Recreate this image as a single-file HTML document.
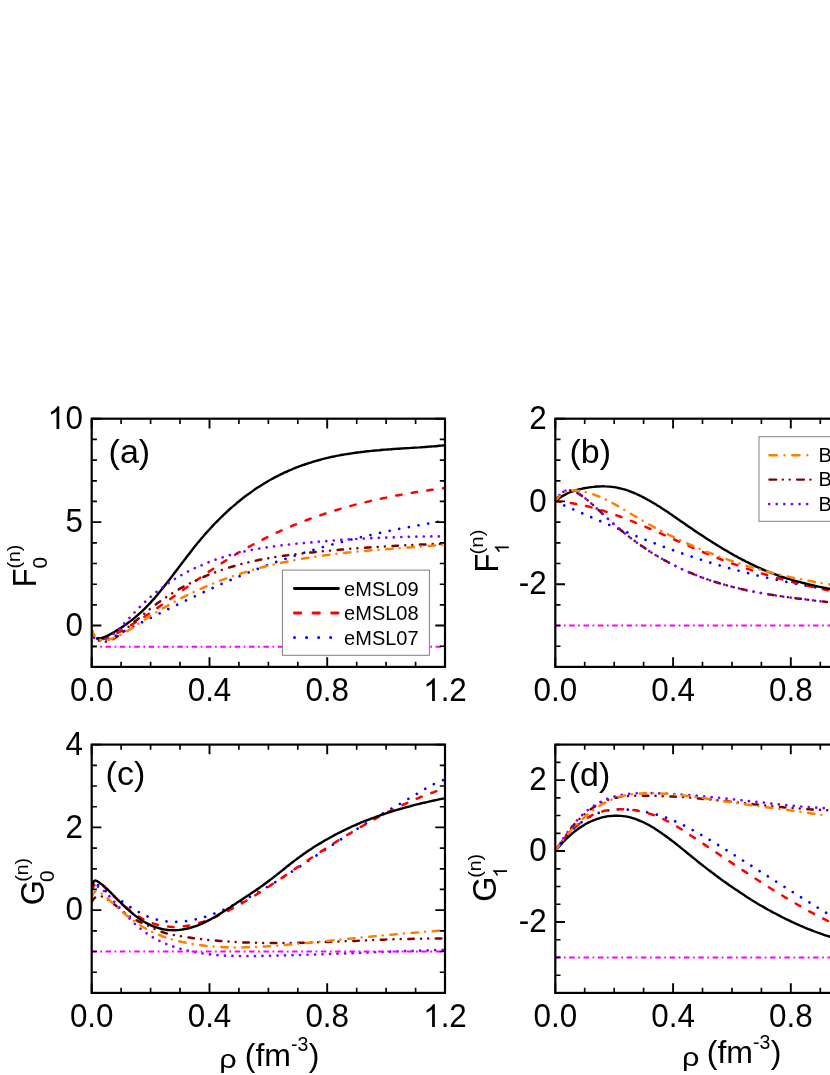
<!DOCTYPE html>
<html><head><meta charset="utf-8"><title>Landau parameters</title>
<style>html,body{margin:0;padding:0;background:#fff}svg{display:block;will-change:transform}text{font-family:"Liberation Sans", sans-serif;fill:#000}</style></head>
<body><svg width="830" height="1075" viewBox="0 0 830 1075">
<rect width="830" height="1075" fill="#fff"/>
<g id="panel-a">
<clipPath id="clip-a"><rect x="91.7" y="418.7" width="353.3" height="248.2"/></clipPath>
<g clip-path="url(#clip-a)" fill="none" stroke-linecap="round" stroke-linejoin="round">
<path d="M91.7 630.7C92.0 631.2 92.7 632.9 93.2 633.8C93.7 634.7 94.2 635.5 94.7 636.2C95.2 636.8 95.7 637.4 96.2 637.8C96.7 638.3 97.2 638.6 97.7 638.9C98.2 639.2 98.7 639.4 99.2 639.6C99.7 639.7 100.2 639.9 100.7 639.9C101.2 640.0 101.7 640.0 102.2 640.0C102.7 640.0 103.2 640.0 103.7 639.9C104.2 639.9 104.7 639.8 105.2 639.7C105.7 639.6 106.2 639.4 106.7 639.3C107.2 639.2 107.7 639.0 108.2 638.9C108.7 638.7 109.2 638.5 109.7 638.3C110.2 638.1 110.7 637.9 111.2 637.7C111.7 637.5 112.2 637.3 112.7 637.1C113.2 636.9 113.7 636.6 114.2 636.4C114.7 636.2 115.2 635.9 115.7 635.7C116.2 635.4 116.7 635.2 117.2 634.9C117.7 634.7 118.2 634.4 118.7 634.1C119.2 633.9 119.7 633.6 120.2 633.4C120.7 633.1 120.8 633.1 121.7 632.6C122.6 632.1 124.4 631.2 125.7 630.5C127.0 629.8 128.4 629.2 129.7 628.5C131.0 627.8 132.4 627.1 133.7 626.4C135.0 625.8 136.4 625.1 137.7 624.4C139.0 623.7 140.4 623.0 141.7 622.4C143.0 621.7 144.4 621.0 145.7 620.4C147.0 619.7 148.4 619.0 149.7 618.4C151.0 617.7 152.4 617.0 153.7 616.4C155.0 615.7 156.4 615.0 157.7 614.4C159.0 613.7 160.4 613.0 161.7 612.4C163.0 611.7 164.4 611.1 165.7 610.4C167.0 609.7 168.4 609.1 169.7 608.4C171.0 607.8 172.4 607.1 173.7 606.5C175.0 605.8 176.4 605.2 177.7 604.5C179.0 603.9 180.4 603.2 181.7 602.6C183.0 601.9 184.4 601.3 185.7 600.6C187.0 600.0 188.4 599.4 189.7 598.7C191.0 598.1 192.4 597.5 193.7 596.8C195.0 596.2 196.4 595.6 197.7 594.9C199.0 594.3 200.4 593.7 201.7 593.1C203.0 592.4 204.4 591.8 205.7 591.2C207.0 590.6 208.4 590.0 209.7 589.3C211.0 588.7 212.4 588.1 213.7 587.5C215.0 586.9 216.4 586.3 217.7 585.7C219.0 585.1 220.4 584.5 221.7 583.9C223.0 583.3 224.4 582.7 225.7 582.2C227.0 581.6 228.4 581.0 229.7 580.4C231.0 579.8 232.4 579.3 233.7 578.7C235.0 578.1 236.4 577.6 237.7 577.0C239.0 576.4 240.4 575.9 241.7 575.3C243.0 574.8 244.4 574.2 245.7 573.7C247.0 573.1 248.4 572.6 249.7 572.0C251.0 571.5 252.4 571.0 253.7 570.4C255.0 569.9 256.4 569.4 257.7 568.9C259.0 568.4 260.4 567.8 261.7 567.3C263.0 566.8 264.4 566.3 265.7 565.8C267.0 565.3 268.4 564.8 269.7 564.3C271.0 563.9 272.4 563.4 273.7 562.9C275.0 562.4 276.4 561.9 277.7 561.5C279.0 561.0 280.4 560.5 281.7 560.1C283.0 559.6 284.4 559.1 285.7 558.7C287.0 558.2 288.4 557.8 289.7 557.3C291.0 556.9 292.4 556.4 293.7 556.0C295.0 555.6 296.4 555.1 297.7 554.7C299.0 554.3 300.4 553.9 301.7 553.4C303.0 553.0 304.4 552.6 305.7 552.2C307.0 551.8 308.4 551.4 309.7 551.0C311.0 550.6 312.4 550.2 313.7 549.8C315.0 549.4 316.4 549.0 317.7 548.6C319.0 548.2 320.4 547.8 321.7 547.4C323.0 547.0 324.4 546.7 325.7 546.3C327.0 545.9 328.4 545.5 329.7 545.2C331.0 544.8 332.4 544.4 333.7 544.1C335.0 543.7 336.4 543.4 337.7 543.0C339.0 542.7 340.4 542.3 341.7 542.0C343.0 541.6 344.4 541.3 345.7 540.9C347.0 540.6 348.4 540.3 349.7 539.9C351.0 539.6 352.4 539.3 353.7 538.9C355.0 538.6 356.4 538.3 357.7 538.0C359.0 537.7 360.4 537.3 361.7 537.0C363.0 536.7 364.4 536.4 365.7 536.1C367.0 535.8 368.4 535.5 369.7 535.2C371.0 534.9 372.4 534.6 373.7 534.3C375.0 534.0 376.4 533.7 377.7 533.4C379.0 533.1 380.4 532.8 381.7 532.5C383.0 532.2 384.4 532.0 385.7 531.7C387.0 531.4 388.4 531.1 389.7 530.9C391.0 530.6 392.4 530.3 393.7 530.0C395.0 529.8 396.4 529.5 397.7 529.2C399.0 529.0 400.4 528.7 401.7 528.4C403.0 528.2 404.4 527.9 405.7 527.7C407.0 527.4 408.4 527.2 409.7 526.9C411.0 526.7 412.4 526.4 413.7 526.2C415.0 525.9 416.4 525.7 417.7 525.4C419.0 525.2 420.4 524.9 421.7 524.7C423.0 524.5 424.4 524.2 425.7 524.0C427.0 523.8 428.4 523.5 429.7 523.3C431.0 523.1 432.4 522.8 433.7 522.6C435.0 522.4 436.4 522.2 437.7 521.9C439.0 521.7 440.5 521.5 441.7 521.3C442.9 521.1 444.4 520.8 445.0 520.7" stroke="#0000ff" stroke-width="2.7" stroke-dasharray="0.01 9.8"/>
<path d="M91.7 630.6C92.0 631.2 92.7 633.0 93.2 634.0C93.7 634.9 94.2 635.7 94.7 636.3C95.2 636.9 95.7 637.4 96.2 637.8C96.7 638.2 97.2 638.4 97.7 638.6C98.2 638.8 98.7 638.9 99.2 639.0C99.7 639.1 100.2 639.2 100.7 639.2C101.2 639.2 101.7 639.2 102.2 639.2C102.7 639.1 103.2 639.1 103.7 639.0C104.2 638.9 104.7 638.7 105.2 638.6C105.7 638.4 106.2 638.3 106.7 638.1C107.2 637.9 107.7 637.7 108.2 637.5C108.7 637.3 109.2 637.1 109.7 636.8C110.2 636.6 110.7 636.4 111.2 636.1C111.7 635.9 112.2 635.6 112.7 635.4C113.2 635.1 113.7 634.8 114.2 634.6C114.7 634.3 115.2 634.1 115.7 633.8C116.2 633.5 116.7 633.3 117.2 633.0C117.7 632.7 118.2 632.5 118.7 632.2C119.2 631.9 119.7 631.7 120.2 631.4C120.7 631.1 120.8 631.1 121.7 630.5C122.6 630.0 124.4 629.0 125.7 628.3C127.0 627.5 128.4 626.7 129.7 625.9C131.0 625.1 132.4 624.3 133.7 623.5C135.0 622.7 136.4 621.8 137.7 621.0C139.0 620.2 140.4 619.3 141.7 618.4C143.0 617.6 144.4 616.7 145.7 615.8C147.0 615.0 148.4 614.1 149.7 613.2C151.0 612.3 152.4 611.4 153.7 610.5C155.0 609.6 156.4 608.7 157.7 607.7C159.0 606.8 160.4 605.9 161.7 605.0C163.0 604.0 164.4 603.1 165.7 602.2C167.0 601.2 168.4 600.3 169.7 599.4C171.0 598.4 172.4 597.5 173.7 596.5C175.0 595.6 176.4 594.6 177.7 593.7C179.0 592.7 180.4 591.8 181.7 590.8C183.0 589.9 184.4 588.9 185.7 588.0C187.0 587.0 188.4 586.1 189.7 585.1C191.0 584.2 192.4 583.2 193.7 582.3C195.0 581.3 196.4 580.4 197.7 579.5C199.0 578.5 200.4 577.6 201.7 576.7C203.0 575.7 204.4 574.8 205.7 573.9C207.0 573.0 208.4 572.0 209.7 571.1C211.0 570.2 212.4 569.3 213.7 568.4C215.0 567.5 216.4 566.6 217.7 565.8C219.0 564.9 220.4 564.0 221.7 563.1C223.0 562.3 224.4 561.4 225.7 560.6C227.0 559.7 228.4 558.9 229.7 558.1C231.0 557.2 232.4 556.4 233.7 555.6C235.0 554.8 236.4 554.0 237.7 553.2C239.0 552.4 240.4 551.6 241.7 550.9C243.0 550.1 244.4 549.3 245.7 548.6C247.0 547.8 248.4 547.1 249.7 546.4C251.0 545.6 252.4 544.9 253.7 544.2C255.0 543.5 256.4 542.8 257.7 542.1C259.0 541.4 260.4 540.7 261.7 540.0C263.0 539.3 264.4 538.6 265.7 538.0C267.0 537.3 268.4 536.7 269.7 536.0C271.0 535.4 272.4 534.7 273.7 534.1C275.0 533.5 276.4 532.8 277.7 532.2C279.0 531.6 280.4 531.0 281.7 530.4C283.0 529.8 284.4 529.2 285.7 528.6C287.0 528.1 288.4 527.5 289.7 526.9C291.0 526.4 292.4 525.8 293.7 525.2C295.0 524.7 296.4 524.2 297.7 523.6C299.0 523.1 300.4 522.6 301.7 522.0C303.0 521.5 304.4 521.0 305.7 520.5C307.0 520.0 308.4 519.5 309.7 519.0C311.0 518.5 312.4 518.0 313.7 517.5C315.0 517.1 316.4 516.6 317.7 516.1C319.0 515.7 320.4 515.2 321.7 514.8C323.0 514.3 324.4 513.9 325.7 513.4C327.0 513.0 328.4 512.6 329.7 512.1C331.0 511.7 332.4 511.3 333.7 510.9C335.0 510.5 336.4 510.1 337.7 509.7C339.0 509.3 340.4 508.9 341.7 508.5C343.0 508.1 344.4 507.7 345.7 507.3C347.0 506.9 348.4 506.6 349.7 506.2C351.0 505.9 352.4 505.5 353.7 505.1C355.0 504.8 356.4 504.4 357.7 504.1C359.0 503.8 360.4 503.4 361.7 503.1C363.0 502.8 364.4 502.4 365.7 502.1C367.0 501.8 368.4 501.5 369.7 501.2C371.0 500.8 372.4 500.5 373.7 500.2C375.0 499.9 376.4 499.6 377.7 499.3C379.0 499.1 380.4 498.8 381.7 498.5C383.0 498.2 384.4 497.9 385.7 497.7C387.0 497.4 388.4 497.1 389.7 496.9C391.0 496.6 392.4 496.3 393.7 496.1C395.0 495.8 396.4 495.6 397.7 495.3C399.0 495.1 400.4 494.8 401.7 494.6C403.0 494.3 404.4 494.1 405.7 493.9C407.0 493.7 408.4 493.4 409.7 493.2C411.0 493.0 412.4 492.8 413.7 492.5C415.0 492.3 416.4 492.1 417.7 491.9C419.0 491.7 420.4 491.5 421.7 491.3C423.0 491.1 424.4 490.9 425.7 490.7C427.0 490.5 428.4 490.3 429.7 490.1C431.0 489.9 432.4 489.7 433.7 489.5C435.0 489.3 436.4 489.2 437.7 489.0C439.0 488.8 440.5 488.6 441.7 488.5C442.9 488.3 444.4 488.1 445.0 488.0" stroke="#ff0000" stroke-width="2.5" stroke-dasharray="5.4 10.3"/>
<path d="M97.4 638.2C97.7 638.2 98.4 638.4 98.9 638.4C99.4 638.4 99.9 638.4 100.4 638.3C100.9 638.3 101.4 638.1 101.9 638.0C102.4 637.8 102.9 637.6 103.4 637.5C103.9 637.3 104.4 637.1 104.9 636.8C105.4 636.6 105.9 636.4 106.4 636.2C106.9 636.0 107.4 635.7 107.9 635.5C108.4 635.2 108.9 635.0 109.4 634.7C109.9 634.5 110.4 634.2 110.9 633.9C111.4 633.7 111.9 633.4 112.4 633.1C112.9 632.8 113.4 632.5 113.9 632.2C114.4 631.9 114.9 631.6 115.4 631.3C115.9 631.0 116.4 630.7 116.9 630.4C117.4 630.1 117.9 629.8 118.4 629.5C118.9 629.2 119.4 628.9 119.9 628.5C120.4 628.2 120.9 627.9 121.4 627.6C121.9 627.2 122.4 626.9 122.9 626.6C123.4 626.2 123.9 625.9 124.4 625.5C124.9 625.2 125.4 624.8 125.9 624.5C126.4 624.1 126.5 624.1 127.4 623.4C128.3 622.7 130.1 621.4 131.4 620.4C132.7 619.4 134.1 618.3 135.4 617.2C136.7 616.0 138.1 614.9 139.4 613.7C140.7 612.5 142.1 611.2 143.4 610.0C144.7 608.7 146.1 607.3 147.4 605.9C148.7 604.5 150.1 603.1 151.4 601.6C152.7 600.1 154.1 598.6 155.4 597.1C156.7 595.5 158.1 593.9 159.4 592.3C160.7 590.7 162.1 589.0 163.4 587.4C164.7 585.7 166.1 584.0 167.4 582.3C168.7 580.6 170.1 578.8 171.4 577.1C172.7 575.3 174.1 573.6 175.4 571.8C176.7 570.1 178.1 568.3 179.4 566.6C180.7 564.8 182.1 563.0 183.4 561.3C184.7 559.5 186.1 557.8 187.4 556.0C188.7 554.3 190.1 552.6 191.4 550.9C192.7 549.2 194.1 547.5 195.4 545.8C196.7 544.2 198.1 542.5 199.4 540.9C200.7 539.3 202.1 537.7 203.4 536.2C204.7 534.6 206.1 533.1 207.4 531.6C208.7 530.2 210.1 528.7 211.4 527.3C212.7 525.8 214.1 524.4 215.4 523.0C216.7 521.6 218.1 520.3 219.4 519.0C220.7 517.6 222.1 516.3 223.4 515.1C224.7 513.8 226.1 512.5 227.4 511.3C228.7 510.1 230.1 508.9 231.4 507.7C232.7 506.5 234.1 505.4 235.4 504.3C236.7 503.1 238.1 502.0 239.4 501.0C240.7 499.9 242.1 498.8 243.4 497.8C244.7 496.8 246.1 495.7 247.4 494.8C248.7 493.8 250.1 492.8 251.4 491.9C252.7 490.9 254.1 490.0 255.4 489.1C256.7 488.2 258.1 487.3 259.4 486.5C260.7 485.6 262.1 484.8 263.4 483.9C264.7 483.1 266.1 482.3 267.4 481.6C268.7 480.8 270.1 480.0 271.4 479.3C272.7 478.5 274.1 477.8 275.4 477.1C276.7 476.4 278.1 475.7 279.4 475.1C280.7 474.4 282.1 473.8 283.4 473.1C284.7 472.5 286.1 471.9 287.4 471.3C288.7 470.7 290.1 470.1 291.4 469.6C292.7 469.0 294.1 468.5 295.4 467.9C296.7 467.4 298.1 466.9 299.4 466.4C300.7 465.9 302.1 465.4 303.4 464.9C304.7 464.5 306.1 464.0 307.4 463.6C308.7 463.1 310.1 462.7 311.4 462.3C312.7 461.9 314.1 461.5 315.4 461.1C316.7 460.7 318.1 460.3 319.4 460.0C320.7 459.6 322.1 459.2 323.4 458.9C324.7 458.6 326.1 458.2 327.4 457.9C328.7 457.6 330.1 457.3 331.4 457.0C332.7 456.7 334.1 456.4 335.4 456.2C336.7 455.9 338.1 455.6 339.4 455.4C340.7 455.1 342.1 454.9 343.4 454.7C344.7 454.4 346.1 454.2 347.4 454.0C348.7 453.8 350.1 453.6 351.4 453.4C352.7 453.2 354.1 453.0 355.4 452.8C356.7 452.6 358.1 452.4 359.4 452.3C360.7 452.1 362.1 451.9 363.4 451.8C364.7 451.6 366.1 451.5 367.4 451.3C368.7 451.2 370.1 451.0 371.4 450.9C372.7 450.8 374.1 450.6 375.4 450.5C376.7 450.4 378.1 450.3 379.4 450.2C380.7 450.0 382.1 449.9 383.4 449.8C384.7 449.7 386.1 449.6 387.4 449.5C388.7 449.4 390.1 449.3 391.4 449.2C392.7 449.1 394.1 449.0 395.4 448.9C396.7 448.8 398.1 448.8 399.4 448.7C400.7 448.6 402.1 448.5 403.4 448.4C404.7 448.3 406.1 448.2 407.4 448.1C408.7 448.1 410.1 448.0 411.4 447.9C412.7 447.8 414.1 447.7 415.4 447.6C416.7 447.5 418.1 447.4 419.4 447.4C420.7 447.3 422.1 447.2 423.4 447.1C424.7 447.0 426.1 446.9 427.4 446.8C428.7 446.7 430.1 446.6 431.4 446.5C432.7 446.4 434.1 446.3 435.4 446.2C436.7 446.1 438.1 445.9 439.4 445.8C440.7 445.7 442.5 445.5 443.4 445.4C444.3 445.4 444.7 445.3 445.0 445.3" stroke="#000" stroke-width="2.4"/>
<path d="M91.7 630.6C92.0 631.2 92.7 633.2 93.2 634.3C93.7 635.3 94.2 636.2 94.7 636.9C95.2 637.6 95.7 638.2 96.2 638.7C96.7 639.2 97.2 639.6 97.7 639.9C98.2 640.2 98.7 640.5 99.2 640.7C99.7 641.0 100.2 641.1 100.7 641.3C101.2 641.5 101.7 641.6 102.2 641.7C102.7 641.8 103.2 641.8 103.7 641.8C104.2 641.9 104.7 641.9 105.2 641.8C105.7 641.8 106.2 641.7 106.7 641.6C107.2 641.6 107.7 641.4 108.2 641.3C108.7 641.2 109.2 641.0 109.7 640.8C110.2 640.6 110.7 640.4 111.2 640.2C111.7 639.9 112.2 639.7 112.7 639.4C113.2 639.1 113.7 638.8 114.2 638.5C114.7 638.2 115.2 637.9 115.7 637.5C116.2 637.2 116.7 636.8 117.2 636.5C117.7 636.1 118.2 635.7 118.7 635.3C119.2 634.9 119.7 634.5 120.2 634.1C120.7 633.7 120.8 633.7 121.7 632.9C122.6 632.1 124.4 630.5 125.7 629.3C127.0 628.2 128.4 626.9 129.7 625.8C131.0 624.6 132.4 623.5 133.7 622.4C135.0 621.3 136.4 620.3 137.7 619.2C139.0 618.1 140.4 617.0 141.7 615.9C143.0 614.8 144.4 613.6 145.7 612.5C147.0 611.4 148.4 610.3 149.7 609.2C151.0 608.2 152.4 607.1 153.7 606.1C155.0 605.1 156.4 604.1 157.7 603.1C159.0 602.1 160.4 601.2 161.7 600.2C163.0 599.3 164.4 598.4 165.7 597.5C167.0 596.6 168.4 595.7 169.7 594.9C171.0 594.0 172.4 593.2 173.7 592.4C175.0 591.5 176.4 590.7 177.7 590.0C179.0 589.2 180.4 588.4 181.7 587.7C183.0 586.9 184.4 586.2 185.7 585.5C187.0 584.8 188.4 584.1 189.7 583.4C191.0 582.7 192.4 582.1 193.7 581.4C195.0 580.8 196.4 580.2 197.7 579.6C199.0 578.9 200.4 578.3 201.7 577.8C203.0 577.2 204.4 576.6 205.7 576.0C207.0 575.5 208.4 574.9 209.7 574.4C211.0 573.9 212.4 573.4 213.7 572.9C215.0 572.4 216.4 571.9 217.7 571.4C219.0 570.9 220.4 570.4 221.7 570.0C223.0 569.5 224.4 569.1 225.7 568.7C227.0 568.2 228.4 567.8 229.7 567.4C231.0 567.0 232.4 566.6 233.7 566.2C235.0 565.8 236.4 565.4 237.7 565.1C239.0 564.7 240.4 564.3 241.7 564.0C243.0 563.6 244.4 563.3 245.7 563.0C247.0 562.7 248.4 562.3 249.7 562.0C251.0 561.7 252.4 561.4 253.7 561.1C255.0 560.8 256.4 560.5 257.7 560.3C259.0 560.0 260.4 559.7 261.7 559.5C263.0 559.2 264.4 559.0 265.7 558.7C267.0 558.5 268.4 558.2 269.7 558.0C271.0 557.8 272.4 557.5 273.7 557.3C275.0 557.1 276.4 556.9 277.7 556.7C279.0 556.5 280.4 556.3 281.7 556.1C283.0 555.9 284.4 555.7 285.7 555.5C287.0 555.3 288.4 555.1 289.7 555.0C291.0 554.8 292.4 554.6 293.7 554.5C295.0 554.3 296.4 554.1 297.7 554.0C299.0 553.8 300.4 553.7 301.7 553.5C303.0 553.4 304.4 553.2 305.7 553.1C307.0 552.9 308.4 552.8 309.7 552.6C311.0 552.5 312.4 552.4 313.7 552.2C315.0 552.1 316.4 552.0 317.7 551.8C319.0 551.7 320.4 551.6 321.7 551.4C323.0 551.3 324.4 551.2 325.7 551.0C327.0 550.9 328.4 550.8 329.7 550.7C331.0 550.6 332.4 550.4 333.7 550.3C335.0 550.2 336.4 550.1 337.7 550.0C339.0 549.8 340.4 549.7 341.7 549.6C343.0 549.5 344.4 549.4 345.7 549.3C347.0 549.2 348.4 549.0 349.7 548.9C351.0 548.8 352.4 548.7 353.7 548.6C355.0 548.5 356.4 548.4 357.7 548.3C359.0 548.2 360.4 548.1 361.7 548.0C363.0 547.9 364.4 547.8 365.7 547.7C367.0 547.6 368.4 547.5 369.7 547.4C371.0 547.3 372.4 547.2 373.7 547.2C375.0 547.1 376.4 547.0 377.7 546.9C379.0 546.8 380.4 546.7 381.7 546.6C383.0 546.5 384.4 546.5 385.7 546.4C387.0 546.3 388.4 546.2 389.7 546.1C391.0 546.1 392.4 546.0 393.7 545.9C395.0 545.8 396.4 545.8 397.7 545.7C399.0 545.6 400.4 545.5 401.7 545.5C403.0 545.4 404.4 545.3 405.7 545.3C407.0 545.2 408.4 545.1 409.7 545.1C411.0 545.0 412.4 544.9 413.7 544.9C415.0 544.8 416.4 544.8 417.7 544.7C419.0 544.7 420.4 544.6 421.7 544.5C423.0 544.5 424.4 544.4 425.7 544.4C427.0 544.3 428.4 544.3 429.7 544.2C431.0 544.2 432.4 544.1 433.7 544.1C435.0 544.0 436.4 544.0 437.7 544.0C439.0 543.9 440.5 543.9 441.7 543.8C442.9 543.8 444.4 543.7 445.0 543.7" stroke="#800000" stroke-width="2.5" stroke-dasharray="5.5 7.2 0.01 7.15 0.01 7.65"/>
<path d="M91.7 630.6C92.0 631.5 92.7 634.4 93.2 635.8C93.7 637.1 94.2 638.1 94.7 638.8C95.2 639.6 95.7 640.0 96.2 640.3C96.7 640.6 97.2 640.7 97.7 640.7C98.2 640.8 98.7 640.6 99.2 640.5C99.7 640.5 100.2 640.3 100.7 640.2C101.2 640.1 101.7 640.0 102.2 639.9C102.7 639.8 103.2 639.7 103.7 639.5C104.2 639.4 104.7 639.2 105.2 639.0C105.7 638.9 106.2 638.7 106.7 638.4C107.2 638.2 107.7 637.9 108.2 637.7C108.7 637.4 109.2 637.1 109.7 636.7C110.2 636.4 110.7 636.1 111.2 635.7C111.7 635.3 112.2 634.9 112.7 634.5C113.2 634.1 113.7 633.7 114.2 633.3C114.7 632.8 115.2 632.4 115.7 631.9C116.2 631.5 116.7 631.0 117.2 630.5C117.7 630.1 118.2 629.6 118.7 629.1C119.2 628.6 119.7 628.1 120.2 627.6C120.7 627.1 120.8 627.0 121.7 626.1C122.6 625.1 124.4 623.3 125.7 621.9C127.0 620.5 128.4 619.0 129.7 617.6C131.0 616.2 132.4 614.7 133.7 613.3C135.0 611.9 136.4 610.5 137.7 609.1C139.0 607.7 140.4 606.4 141.7 605.1C143.0 603.7 144.4 602.5 145.7 601.2C147.0 600.0 148.4 598.8 149.7 597.6C151.0 596.4 152.4 595.3 153.7 594.2C155.0 593.1 156.4 592.0 157.7 591.0C159.0 589.9 160.4 588.9 161.7 587.9C163.0 586.9 164.4 585.9 165.7 585.0C167.0 584.1 168.4 583.1 169.7 582.3C171.0 581.4 172.4 580.5 173.7 579.7C175.0 578.8 176.4 578.0 177.7 577.2C179.0 576.4 180.4 575.7 181.7 574.9C183.0 574.2 184.4 573.4 185.7 572.7C187.0 572.0 188.4 571.3 189.7 570.7C191.0 570.0 192.4 569.3 193.7 568.7C195.0 568.0 196.4 567.4 197.7 566.8C199.0 566.2 200.4 565.6 201.7 565.1C203.0 564.5 204.4 563.9 205.7 563.4C207.0 562.8 208.4 562.3 209.7 561.8C211.0 561.3 212.4 560.8 213.7 560.3C215.0 559.8 216.4 559.4 217.7 558.9C219.0 558.5 220.4 558.0 221.7 557.6C223.0 557.2 224.4 556.8 225.7 556.4C227.0 556.0 228.4 555.6 229.7 555.2C231.0 554.8 232.4 554.4 233.7 554.1C235.0 553.7 236.4 553.4 237.7 553.1C239.0 552.7 240.4 552.4 241.7 552.1C243.0 551.8 244.4 551.5 245.7 551.2C247.0 550.9 248.4 550.6 249.7 550.4C251.0 550.1 252.4 549.8 253.7 549.6C255.0 549.3 256.4 549.1 257.7 548.9C259.0 548.6 260.4 548.4 261.7 548.2C263.0 547.9 264.4 547.7 265.7 547.5C267.0 547.3 268.4 547.1 269.7 546.9C271.0 546.7 272.4 546.6 273.7 546.4C275.0 546.2 276.4 546.0 277.7 545.8C279.0 545.7 280.4 545.5 281.7 545.3C283.0 545.2 284.4 545.0 285.7 544.9C287.0 544.7 288.4 544.6 289.7 544.4C291.0 544.3 292.4 544.1 293.7 544.0C295.0 543.9 296.4 543.7 297.7 543.6C299.0 543.5 300.4 543.3 301.7 543.2C303.0 543.1 304.4 543.0 305.7 542.8C307.0 542.7 308.4 542.6 309.7 542.5C311.0 542.3 312.4 542.2 313.7 542.1C315.0 542.0 316.4 541.9 317.7 541.8C319.0 541.6 320.4 541.5 321.7 541.4C323.0 541.3 324.4 541.2 325.7 541.1C327.0 541.0 328.4 540.9 329.7 540.8C331.0 540.7 332.4 540.6 333.7 540.5C335.0 540.4 336.4 540.3 337.7 540.2C339.0 540.1 340.4 540.0 341.7 539.9C343.0 539.8 344.4 539.7 345.7 539.6C347.0 539.6 348.4 539.5 349.7 539.4C351.0 539.3 352.4 539.2 353.7 539.1C355.0 539.1 356.4 539.0 357.7 538.9C359.0 538.8 360.4 538.8 361.7 538.7C363.0 538.6 364.4 538.5 365.7 538.5C367.0 538.4 368.4 538.3 369.7 538.3C371.0 538.2 372.4 538.1 373.7 538.1C375.0 538.0 376.4 538.0 377.7 537.9C379.0 537.8 380.4 537.8 381.7 537.7C383.0 537.7 384.4 537.6 385.7 537.6C387.0 537.5 388.4 537.5 389.7 537.4C391.0 537.4 392.4 537.3 393.7 537.3C395.0 537.2 396.4 537.2 397.7 537.1C399.0 537.1 400.4 537.1 401.7 537.0C403.0 537.0 404.4 536.9 405.7 536.9C407.0 536.9 408.4 536.8 409.7 536.8C411.0 536.8 412.4 536.7 413.7 536.7C415.0 536.7 416.4 536.7 417.7 536.6C419.0 536.6 420.4 536.6 421.7 536.6C423.0 536.5 424.4 536.5 425.7 536.5C427.0 536.5 428.4 536.5 429.7 536.4C431.0 536.4 432.4 536.4 433.7 536.4C435.0 536.4 436.4 536.4 437.7 536.4C439.0 536.3 440.5 536.3 441.7 536.3C442.9 536.3 444.4 536.3 445.0 536.3" stroke="#8000ff" stroke-width="2.7" stroke-dasharray="0.01 7.5"/>
<path d="M91.7 629.9C92.0 630.5 92.7 632.1 93.2 633.1C93.7 634.1 94.2 635.2 94.7 635.9C95.2 636.6 95.7 637.0 96.2 637.5C96.7 637.9 97.2 638.2 97.7 638.5C98.2 638.8 98.7 639.1 99.2 639.3C99.7 639.5 100.2 639.7 100.7 639.8C101.2 639.9 101.7 640.0 102.2 640.1C102.7 640.2 103.2 640.2 103.7 640.2C104.2 640.2 104.7 640.2 105.2 640.2C105.7 640.1 106.2 640.1 106.7 640.0C107.2 639.9 107.7 639.8 108.2 639.7C108.7 639.6 109.2 639.5 109.7 639.3C110.2 639.2 110.7 639.0 111.2 638.9C111.7 638.7 112.2 638.5 112.7 638.4C113.2 638.2 113.7 638.0 114.2 637.8C114.7 637.6 115.2 637.4 115.7 637.2C116.2 637.0 116.7 636.8 117.2 636.5C117.7 636.3 118.2 636.1 118.7 635.8C119.2 635.6 119.7 635.3 120.2 635.1C120.7 634.8 120.8 634.8 121.7 634.3C122.6 633.8 124.4 632.8 125.7 632.0C127.0 631.2 128.4 630.4 129.7 629.6C131.0 628.7 132.4 627.8 133.7 627.0C135.0 626.1 136.4 625.2 137.7 624.3C139.0 623.4 140.4 622.5 141.7 621.6C143.0 620.7 144.4 619.8 145.7 619.0C147.0 618.1 148.4 617.2 149.7 616.4C151.0 615.5 152.4 614.7 153.7 613.9C155.0 613.0 156.4 612.2 157.7 611.4C159.0 610.6 160.4 609.8 161.7 609.0C163.0 608.2 164.4 607.5 165.7 606.7C167.0 605.9 168.4 605.2 169.7 604.4C171.0 603.7 172.4 602.9 173.7 602.2C175.0 601.5 176.4 600.8 177.7 600.1C179.0 599.3 180.4 598.7 181.7 598.0C183.0 597.3 184.4 596.6 185.7 595.9C187.0 595.3 188.4 594.6 189.7 593.9C191.0 593.3 192.4 592.7 193.7 592.0C195.0 591.4 196.4 590.8 197.7 590.2C199.0 589.6 200.4 588.9 201.7 588.4C203.0 587.8 204.4 587.2 205.7 586.6C207.0 586.0 208.4 585.5 209.7 584.9C211.0 584.3 212.4 583.8 213.7 583.3C215.0 582.7 216.4 582.2 217.7 581.7C219.0 581.1 220.4 580.6 221.7 580.1C223.0 579.6 224.4 579.1 225.7 578.6C227.0 578.2 228.4 577.7 229.7 577.2C231.0 576.7 232.4 576.3 233.7 575.8C235.0 575.4 236.4 574.9 237.7 574.5C239.0 574.1 240.4 573.6 241.7 573.2C243.0 572.8 244.4 572.4 245.7 572.0C247.0 571.6 248.4 571.2 249.7 570.8C251.0 570.4 252.4 570.0 253.7 569.6C255.0 569.2 256.4 568.9 257.7 568.5C259.0 568.2 260.4 567.8 261.7 567.4C263.0 567.1 264.4 566.8 265.7 566.4C267.0 566.1 268.4 565.8 269.7 565.4C271.0 565.1 272.4 564.8 273.7 564.5C275.0 564.2 276.4 563.9 277.7 563.6C279.0 563.3 280.4 563.0 281.7 562.7C283.0 562.4 284.4 562.2 285.7 561.9C287.0 561.6 288.4 561.3 289.7 561.1C291.0 560.8 292.4 560.6 293.7 560.3C295.0 560.1 296.4 559.8 297.7 559.6C299.0 559.3 300.4 559.1 301.7 558.9C303.0 558.6 304.4 558.4 305.7 558.2C307.0 558.0 308.4 557.8 309.7 557.5C311.0 557.3 312.4 557.1 313.7 556.9C315.0 556.7 316.4 556.5 317.7 556.3C319.0 556.1 320.4 555.9 321.7 555.8C323.0 555.6 324.4 555.4 325.7 555.2C327.0 555.0 328.4 554.9 329.7 554.7C331.0 554.5 332.4 554.4 333.7 554.2C335.0 554.0 336.4 553.9 337.7 553.7C339.0 553.6 340.4 553.4 341.7 553.3C343.0 553.1 344.4 553.0 345.7 552.8C347.0 552.7 348.4 552.5 349.7 552.4C351.0 552.3 352.4 552.1 353.7 552.0C355.0 551.9 356.4 551.7 357.7 551.6C359.0 551.5 360.4 551.4 361.7 551.2C363.0 551.1 364.4 551.0 365.7 550.9C367.0 550.7 368.4 550.6 369.7 550.5C371.0 550.4 372.4 550.3 373.7 550.2C375.0 550.1 376.4 550.0 377.7 549.8C379.0 549.7 380.4 549.6 381.7 549.5C383.0 549.4 384.4 549.3 385.7 549.2C387.0 549.1 388.4 549.0 389.7 548.9C391.0 548.8 392.4 548.7 393.7 548.6C395.0 548.5 396.4 548.4 397.7 548.3C399.0 548.2 400.4 548.1 401.7 548.0C403.0 547.9 404.4 547.8 405.7 547.7C407.0 547.6 408.4 547.5 409.7 547.4C411.0 547.3 412.4 547.2 413.7 547.1C415.0 547.0 416.4 546.9 417.7 546.8C419.0 546.7 420.4 546.6 421.7 546.5C423.0 546.4 424.4 546.3 425.7 546.2C427.0 546.1 428.4 546.0 429.7 545.9C431.0 545.8 432.4 545.7 433.7 545.6C435.0 545.5 436.4 545.4 437.7 545.3C439.0 545.2 440.5 545.1 441.7 545.0C442.9 544.9 444.4 544.7 445.0 544.7" stroke="#ff8000" stroke-width="2.5" stroke-dasharray="6.55 7.0 0.01 7.65"/>
</g>
<path d="M91.7 646.7 H445.0" stroke="#ff00ff" stroke-width="2.0" stroke-dasharray="5.5 3.55 1.75 3.55" stroke-dashoffset="0.5" fill="none"/>
<rect x="282.4" y="570.1" width="147.0" height="85.2" fill="#fff" stroke="#808080" stroke-width="1"/>
<path d="M294.4 588.5 H338.4" stroke="#000" stroke-width="2.9" stroke-linecap="round"/>
<text x="344.1" y="595.5" font-size="20">eMSL09</text>
<path d="M294.4 613.0 H338.4" stroke="#ff0000" stroke-width="2.9" stroke-linecap="round" stroke-dasharray="6.4 12.2"/>
<text x="344.1" y="620.0" font-size="20">eMSL08</text>
<path d="M294.5 637.6 H338.4" stroke="#0000ff" stroke-width="3" stroke-linecap="round" stroke-dasharray="0.01 12.05"/>
<text x="344.1" y="644.6" font-size="20">eMSL07</text>
<rect x="91.7" y="418.7" width="353.3" height="248.2" fill="none" stroke="#000" stroke-width="2.2"/>
<path d="M91.7 666.9v-9.7M91.7 418.7v9.7M209.5 666.9v-9.7M209.5 418.7v9.7M327.2 666.9v-9.7M327.2 418.7v9.7M445.0 666.9v-9.7M445.0 418.7v9.7M91.7 625.5h9.7M445.0 625.5h-9.7M91.7 522.1h9.7M445.0 522.1h-9.7M91.7 418.7h9.7M445.0 418.7h-9.7" stroke="#000" stroke-width="1.9" fill="none"/>
<path d="M121.1 666.9v-5.2M121.1 418.7v5.2M150.6 666.9v-5.2M150.6 418.7v5.2M180.0 666.9v-5.2M180.0 418.7v5.2M238.9 666.9v-5.2M238.9 418.7v5.2M268.4 666.9v-5.2M268.4 418.7v5.2M297.8 666.9v-5.2M297.8 418.7v5.2M356.7 666.9v-5.2M356.7 418.7v5.2M386.1 666.9v-5.2M386.1 418.7v5.2M415.6 666.9v-5.2M415.6 418.7v5.2M91.7 666.9h5.2M445.0 666.9h-5.2M91.7 646.2h5.2M445.0 646.2h-5.2M91.7 604.9h5.2M445.0 604.9h-5.2M91.7 584.2h5.2M445.0 584.2h-5.2M91.7 563.5h5.2M445.0 563.5h-5.2M91.7 542.8h5.2M445.0 542.8h-5.2M91.7 501.4h5.2M445.0 501.4h-5.2M91.7 480.8h5.2M445.0 480.8h-5.2M91.7 460.1h5.2M445.0 460.1h-5.2M91.7 439.4h5.2M445.0 439.4h-5.2" stroke="#000" stroke-width="1.65" fill="none"/>
<text transform="translate(91.7 700.9) scale(1 1.040)" font-size="31.4" text-anchor="middle">0.0</text>
<text transform="translate(209.5 700.9) scale(1 1.040)" font-size="31.4" text-anchor="middle">0.4</text>
<text transform="translate(327.2 700.9) scale(1 1.040)" font-size="31.4" text-anchor="middle">0.8</text>
<path transform="translate(423.17 700.9) scale(0.01533 -0.01533)" d="M763 0H583V1147Q518 1085 412.5 1023T223 930V1104Q374 1175 487 1276T647 1472H763Z"/>
<text transform="translate(466.8 700.9) scale(1 1.040)" font-size="31.4" text-anchor="end">.2</text>
<text transform="translate(83.0 635.7) scale(1 1.040)" font-size="31.4" text-anchor="end">0</text>
<text transform="translate(83.0 532.3) scale(1 1.040)" font-size="31.4" text-anchor="end">5</text>
<path transform="translate(47.57 428.9) scale(0.01533 -0.01533)" d="M763 0H583V1147Q518 1085 412.5 1023T223 930V1104Q374 1175 487 1276T647 1472H763Z"/>
<text transform="translate(83.0 428.9) scale(1 1.040)" font-size="31.4" text-anchor="end">0</text>
</g>
<g id="panel-b">
<clipPath id="clip-b"><rect x="555.3" y="418.7" width="353.3" height="248.2"/></clipPath>
<g clip-path="url(#clip-b)" fill="none" stroke-linecap="round" stroke-linejoin="round">
<path d="M555.3 501.4C555.5 501.5 556.3 501.8 556.8 502.0C557.3 502.3 557.8 502.5 558.3 502.7C558.8 502.9 559.3 503.2 559.8 503.4C560.3 503.6 560.8 503.8 561.3 504.0C561.8 504.3 562.3 504.5 562.8 504.7C563.3 504.9 563.8 505.2 564.3 505.4C564.8 505.6 565.3 505.8 565.8 506.0C566.3 506.3 566.8 506.5 567.3 506.7C567.8 506.9 568.3 507.1 568.8 507.4C569.3 507.6 569.8 507.8 570.3 508.0C570.8 508.3 571.3 508.5 571.8 508.7C572.3 508.9 572.8 509.1 573.3 509.4C573.8 509.6 574.3 509.8 574.8 510.0C575.3 510.2 575.8 510.5 576.3 510.7C576.8 510.9 577.3 511.1 577.8 511.3C578.3 511.6 578.8 511.8 579.3 512.0C579.8 512.2 580.3 512.4 580.8 512.7C581.3 512.9 581.8 513.1 582.3 513.3C582.8 513.5 583.3 513.7 583.8 514.0C584.3 514.2 584.4 514.2 585.3 514.6C586.2 515.0 588.0 515.8 589.3 516.4C590.6 516.9 592.0 517.5 593.3 518.1C594.6 518.7 596.0 519.3 597.3 519.8C598.6 520.4 600.0 521.0 601.3 521.5C602.6 522.1 604.0 522.7 605.3 523.3C606.6 523.8 608.0 524.4 609.3 525.0C610.6 525.5 612.0 526.1 613.3 526.6C614.6 527.2 616.0 527.8 617.3 528.3C618.6 528.9 620.0 529.4 621.3 530.0C622.6 530.5 624.0 531.1 625.3 531.6C626.6 532.2 628.0 532.7 629.3 533.3C630.6 533.8 632.0 534.4 633.3 534.9C634.6 535.5 636.0 536.0 637.3 536.5C638.6 537.1 640.0 537.6 641.3 538.1C642.6 538.6 644.0 539.2 645.3 539.7C646.6 540.2 648.0 540.7 649.3 541.3C650.6 541.8 652.0 542.3 653.3 542.8C654.6 543.3 656.0 543.8 657.3 544.3C658.6 544.8 660.0 545.3 661.3 545.8C662.6 546.3 664.0 546.8 665.3 547.3C666.6 547.8 668.0 548.3 669.3 548.8C670.6 549.3 672.0 549.8 673.3 550.3C674.6 550.7 676.0 551.2 677.3 551.7C678.6 552.2 680.0 552.6 681.3 553.1C682.6 553.6 684.0 554.0 685.3 554.5C686.6 554.9 688.0 555.4 689.3 555.8C690.6 556.3 692.0 556.7 693.3 557.2C694.6 557.6 696.0 558.1 697.3 558.5C698.6 558.9 700.0 559.4 701.3 559.8C702.6 560.2 704.0 560.6 705.3 561.0C706.6 561.5 708.0 561.9 709.3 562.3C710.6 562.7 712.0 563.1 713.3 563.5C714.6 563.9 716.0 564.3 717.3 564.7C718.6 565.1 720.0 565.5 721.3 565.9C722.6 566.3 724.0 566.7 725.3 567.0C726.6 567.4 728.0 567.8 729.3 568.2C730.6 568.5 732.0 568.9 733.3 569.3C734.6 569.6 736.0 570.0 737.3 570.4C738.6 570.7 740.0 571.1 741.3 571.4C742.6 571.8 744.0 572.1 745.3 572.5C746.6 572.8 748.0 573.1 749.3 573.5C750.6 573.8 752.0 574.1 753.3 574.5C754.6 574.8 756.0 575.1 757.3 575.5C758.6 575.8 760.0 576.1 761.3 576.4C762.6 576.7 764.0 577.0 765.3 577.3C766.6 577.6 768.0 578.0 769.3 578.3C770.6 578.6 772.0 578.9 773.3 579.1C774.6 579.4 776.0 579.7 777.3 580.0C778.6 580.3 780.0 580.6 781.3 580.9C782.6 581.2 784.0 581.4 785.3 581.7C786.6 582.0 788.0 582.3 789.3 582.5C790.6 582.8 792.0 583.1 793.3 583.3C794.6 583.6 796.0 583.8 797.3 584.1C798.6 584.3 800.0 584.6 801.3 584.8C802.6 585.1 804.0 585.3 805.3 585.6C806.6 585.8 808.0 586.1 809.3 586.3C810.6 586.5 812.0 586.8 813.3 587.0C814.6 587.2 816.0 587.4 817.3 587.7C818.6 587.9 820.0 588.1 821.3 588.3C822.6 588.5 824.0 588.8 825.3 589.0C826.6 589.2 828.0 589.4 829.3 589.6C830.6 589.8 832.0 590.0 833.3 590.2C834.6 590.4 836.0 590.6 837.3 590.8C838.6 591.0 840.0 591.2 841.3 591.4C842.6 591.5 844.4 591.8 845.0 591.9" stroke="#0000ff" stroke-width="2.7" stroke-dasharray="0.01 9.8"/>
<path d="M555.3 501.3C555.5 501.3 556.3 501.4 556.8 501.4C557.3 501.5 557.8 501.5 558.3 501.5C558.8 501.6 559.3 501.6 559.8 501.7C560.3 501.7 560.8 501.8 561.3 501.8C561.8 501.8 562.3 501.9 562.8 502.0C563.3 502.0 563.8 502.1 564.3 502.1C564.8 502.2 565.3 502.2 565.8 502.3C566.3 502.4 566.8 502.4 567.3 502.5C567.8 502.6 568.3 502.6 568.8 502.7C569.3 502.8 569.8 502.9 570.3 502.9C570.8 503.0 571.3 503.1 571.8 503.2C572.3 503.3 572.8 503.3 573.3 503.4C573.8 503.5 574.3 503.6 574.8 503.7C575.3 503.8 575.8 503.9 576.3 504.0C576.8 504.1 577.3 504.1 577.8 504.2C578.3 504.3 578.8 504.4 579.3 504.5C579.8 504.6 580.3 504.8 580.8 504.9C581.3 505.0 581.8 505.1 582.3 505.2C582.8 505.3 583.3 505.4 583.8 505.5C584.3 505.6 584.4 505.6 585.3 505.9C586.2 506.1 588.0 506.5 589.3 506.8C590.6 507.2 592.0 507.5 593.3 507.9C594.6 508.2 596.0 508.6 597.3 509.0C598.6 509.4 600.0 509.8 601.3 510.2C602.6 510.6 604.0 511.0 605.3 511.5C606.6 511.9 608.0 512.3 609.3 512.8C610.6 513.2 612.0 513.7 613.3 514.1C614.6 514.6 616.0 515.1 617.3 515.6C618.6 516.1 620.0 516.5 621.3 517.0C622.6 517.5 624.0 518.1 625.3 518.6C626.6 519.1 628.0 519.6 629.3 520.1C630.6 520.7 632.0 521.2 633.3 521.7C634.6 522.3 636.0 522.8 637.3 523.4C638.6 523.9 640.0 524.5 641.3 525.0C642.6 525.6 644.0 526.2 645.3 526.7C646.6 527.3 648.0 527.9 649.3 528.5C650.6 529.0 652.0 529.6 653.3 530.2C654.6 530.8 656.0 531.4 657.3 532.0C658.6 532.6 660.0 533.2 661.3 533.7C662.6 534.3 664.0 534.9 665.3 535.5C666.6 536.1 668.0 536.7 669.3 537.3C670.6 537.9 672.0 538.5 673.3 539.1C674.6 539.7 676.0 540.3 677.3 540.9C678.6 541.5 680.0 542.1 681.3 542.7C682.6 543.3 684.0 543.9 685.3 544.5C686.6 545.0 688.0 545.6 689.3 546.2C690.6 546.8 692.0 547.4 693.3 548.0C694.6 548.5 696.0 549.1 697.3 549.7C698.6 550.3 700.0 550.8 701.3 551.4C702.6 552.0 704.0 552.5 705.3 553.1C706.6 553.6 708.0 554.2 709.3 554.7C710.6 555.3 712.0 555.8 713.3 556.3C714.6 556.9 716.0 557.4 717.3 557.9C718.6 558.4 720.0 559.0 721.3 559.5C722.6 560.0 724.0 560.5 725.3 561.0C726.6 561.5 728.0 562.0 729.3 562.5C730.6 563.0 732.0 563.4 733.3 563.9C734.6 564.4 736.0 564.9 737.3 565.3C738.6 565.8 740.0 566.3 741.3 566.7C742.6 567.2 744.0 567.7 745.3 568.1C746.6 568.6 748.0 569.0 749.3 569.4C750.6 569.9 752.0 570.3 753.3 570.8C754.6 571.2 756.0 571.6 757.3 572.0C758.6 572.5 760.0 572.9 761.3 573.3C762.6 573.7 764.0 574.1 765.3 574.5C766.6 574.9 768.0 575.3 769.3 575.7C770.6 576.1 772.0 576.5 773.3 576.9C774.6 577.2 776.0 577.6 777.3 578.0C778.6 578.4 780.0 578.7 781.3 579.1C782.6 579.5 784.0 579.8 785.3 580.2C786.6 580.6 788.0 580.9 789.3 581.3C790.6 581.6 792.0 582.0 793.3 582.3C794.6 582.6 796.0 583.0 797.3 583.3C798.6 583.6 800.0 584.0 801.3 584.3C802.6 584.6 804.0 584.9 805.3 585.2C806.6 585.6 808.0 585.9 809.3 586.2C810.6 586.5 812.0 586.8 813.3 587.1C814.6 587.4 816.0 587.7 817.3 588.0C818.6 588.3 820.0 588.5 821.3 588.8C822.6 589.1 824.0 589.4 825.3 589.7C826.6 589.9 828.0 590.2 829.3 590.5C830.6 590.7 832.0 591.0 833.3 591.3C834.6 591.5 836.0 591.8 837.3 592.0C838.6 592.3 840.0 592.5 841.3 592.8C842.6 593.0 844.4 593.3 845.0 593.4" stroke="#ff0000" stroke-width="2.5" stroke-dasharray="5.4 10.3"/>
<path d="M555.3 501.3C555.5 501.1 556.3 500.5 556.8 500.1C557.3 499.7 557.8 499.3 558.3 498.9C558.8 498.5 559.3 498.2 559.8 497.8C560.3 497.5 560.8 497.2 561.3 496.8C561.8 496.5 562.3 496.2 562.8 495.9C563.3 495.6 563.8 495.3 564.3 495.1C564.8 494.8 565.3 494.5 565.8 494.3C566.3 494.0 566.8 493.8 567.3 493.5C567.8 493.3 568.3 493.1 568.8 492.8C569.3 492.6 569.8 492.4 570.3 492.2C570.8 492.0 571.3 491.8 571.8 491.6C572.3 491.4 572.8 491.3 573.3 491.1C573.8 490.9 574.3 490.8 574.8 490.6C575.3 490.4 575.8 490.3 576.3 490.1C576.8 490.0 577.3 489.9 577.8 489.7C578.3 489.6 578.8 489.4 579.3 489.3C579.8 489.2 580.3 489.1 580.8 489.0C581.3 488.8 581.8 488.7 582.3 488.6C582.8 488.5 583.3 488.4 583.8 488.3C584.3 488.2 584.4 488.2 585.3 488.0C586.2 487.9 588.0 487.6 589.3 487.4C590.6 487.2 592.0 487.0 593.3 486.9C594.6 486.7 596.0 486.6 597.3 486.5C598.6 486.5 600.0 486.4 601.3 486.4C602.6 486.3 604.0 486.3 605.3 486.4C606.6 486.4 608.0 486.5 609.3 486.6C610.6 486.7 612.0 486.8 613.3 487.0C614.6 487.2 616.0 487.4 617.3 487.7C618.6 487.9 620.0 488.2 621.3 488.6C622.6 488.9 624.0 489.3 625.3 489.7C626.6 490.1 628.0 490.6 629.3 491.1C630.6 491.6 632.0 492.1 633.3 492.6C634.6 493.2 636.0 493.8 637.3 494.4C638.6 495.0 640.0 495.6 641.3 496.3C642.6 496.9 644.0 497.6 645.3 498.4C646.6 499.1 648.0 499.8 649.3 500.6C650.6 501.3 652.0 502.1 653.3 502.9C654.6 503.7 656.0 504.5 657.3 505.4C658.6 506.2 660.0 507.0 661.3 507.9C662.6 508.8 664.0 509.6 665.3 510.5C666.6 511.4 668.0 512.3 669.3 513.2C670.6 514.1 672.0 515.0 673.3 515.9C674.6 516.8 676.0 517.8 677.3 518.7C678.6 519.6 680.0 520.5 681.3 521.5C682.6 522.4 684.0 523.3 685.3 524.2C686.6 525.2 688.0 526.1 689.3 527.0C690.6 527.9 692.0 528.8 693.3 529.7C694.6 530.7 696.0 531.6 697.3 532.4C698.6 533.3 700.0 534.2 701.3 535.1C702.6 536.0 704.0 536.9 705.3 537.7C706.6 538.6 708.0 539.5 709.3 540.3C710.6 541.2 712.0 542.0 713.3 542.8C714.6 543.7 716.0 544.5 717.3 545.3C718.6 546.1 720.0 547.0 721.3 547.8C722.6 548.6 724.0 549.4 725.3 550.1C726.6 550.9 728.0 551.7 729.3 552.5C730.6 553.2 732.0 554.0 733.3 554.7C734.6 555.5 736.0 556.2 737.3 556.9C738.6 557.7 740.0 558.4 741.3 559.1C742.6 559.8 744.0 560.5 745.3 561.2C746.6 561.9 748.0 562.5 749.3 563.2C750.6 563.8 752.0 564.5 753.3 565.1C754.6 565.8 756.0 566.4 757.3 567.0C758.6 567.6 760.0 568.2 761.3 568.8C762.6 569.4 764.0 570.0 765.3 570.5C766.6 571.1 768.0 571.6 769.3 572.2C770.6 572.7 772.0 573.2 773.3 573.7C774.6 574.2 776.0 574.7 777.3 575.2C778.6 575.7 780.0 576.1 781.3 576.6C782.6 577.0 784.0 577.5 785.3 577.9C786.6 578.3 788.0 578.7 789.3 579.1C790.6 579.5 792.0 579.9 793.3 580.3C794.6 580.7 796.0 581.1 797.3 581.4C798.6 581.8 800.0 582.1 801.3 582.5C802.6 582.8 804.0 583.2 805.3 583.5C806.6 583.8 808.0 584.1 809.3 584.5C810.6 584.8 812.0 585.1 813.3 585.4C814.6 585.7 816.0 586.0 817.3 586.3C818.6 586.6 820.0 586.9 821.3 587.1C822.6 587.4 824.0 587.7 825.3 588.0C826.6 588.3 828.0 588.6 829.3 588.8C830.6 589.1 832.0 589.4 833.3 589.6C834.6 589.9 836.0 590.2 837.3 590.5C838.6 590.7 840.0 591.0 841.3 591.3C842.6 591.5 844.4 591.9 845.0 592.0" stroke="#000" stroke-width="2.4"/>
<path d="M555.3 501.4C555.5 501.0 556.3 499.6 556.8 498.8C557.3 498.0 557.8 497.2 558.3 496.6C558.8 495.9 559.3 495.3 559.8 494.7C560.3 494.2 560.8 493.7 561.3 493.2C561.8 492.8 562.3 492.4 562.8 492.1C563.3 491.7 563.8 491.4 564.3 491.2C564.8 491.0 565.3 490.8 565.8 490.6C566.3 490.5 566.8 490.4 567.3 490.3C567.8 490.2 568.3 490.2 568.8 490.2C569.3 490.2 569.8 490.3 570.3 490.3C570.8 490.4 571.3 490.5 571.8 490.6C572.3 490.8 572.8 490.9 573.3 491.1C573.8 491.3 574.3 491.5 574.8 491.7C575.3 491.9 575.8 492.2 576.3 492.4C576.8 492.7 577.3 493.0 577.8 493.2C578.3 493.5 578.8 493.8 579.3 494.1C579.8 494.4 580.3 494.8 580.8 495.1C581.3 495.4 581.8 495.8 582.3 496.1C582.8 496.5 583.3 496.8 583.8 497.2C584.3 497.6 584.4 497.6 585.3 498.3C586.2 499.1 588.0 500.5 589.3 501.6C590.6 502.8 592.0 504.0 593.3 505.2C594.6 506.4 596.0 507.6 597.3 508.9C598.6 510.1 600.0 511.4 601.3 512.7C602.6 513.9 604.0 515.2 605.3 516.4C606.6 517.7 608.0 518.9 609.3 520.1C610.6 521.3 612.0 522.5 613.3 523.6C614.6 524.8 616.0 526.0 617.3 527.1C618.6 528.2 620.0 529.4 621.3 530.5C622.6 531.6 624.0 532.6 625.3 533.7C626.6 534.8 628.0 535.8 629.3 536.9C630.6 537.9 632.0 538.9 633.3 539.9C634.6 540.9 636.0 541.9 637.3 542.9C638.6 543.8 640.0 544.8 641.3 545.7C642.6 546.6 644.0 547.5 645.3 548.4C646.6 549.3 648.0 550.2 649.3 551.1C650.6 551.9 652.0 552.8 653.3 553.6C654.6 554.4 656.0 555.3 657.3 556.1C658.6 556.9 660.0 557.6 661.3 558.4C662.6 559.2 664.0 559.9 665.3 560.7C666.6 561.4 668.0 562.1 669.3 562.8C670.6 563.5 672.0 564.2 673.3 564.9C674.6 565.6 676.0 566.2 677.3 566.9C678.6 567.5 680.0 568.2 681.3 568.8C682.6 569.4 684.0 570.0 685.3 570.6C686.6 571.2 688.0 571.8 689.3 572.4C690.6 572.9 692.0 573.5 693.3 574.0C694.6 574.6 696.0 575.1 697.3 575.6C698.6 576.2 700.0 576.7 701.3 577.2C702.6 577.7 704.0 578.1 705.3 578.6C706.6 579.1 708.0 579.5 709.3 580.0C710.6 580.5 712.0 580.9 713.3 581.3C714.6 581.8 716.0 582.2 717.3 582.6C718.6 583.0 720.0 583.4 721.3 583.8C722.6 584.2 724.0 584.6 725.3 584.9C726.6 585.3 728.0 585.7 729.3 586.0C730.6 586.4 732.0 586.7 733.3 587.1C734.6 587.4 736.0 587.7 737.3 588.1C738.6 588.4 740.0 588.7 741.3 589.0C742.6 589.3 744.0 589.6 745.3 589.9C746.6 590.2 748.0 590.5 749.3 590.7C750.6 591.0 752.0 591.3 753.3 591.6C754.6 591.8 756.0 592.1 757.3 592.3C758.6 592.6 760.0 592.8 761.3 593.1C762.6 593.3 764.0 593.5 765.3 593.8C766.6 594.0 768.0 594.2 769.3 594.4C770.6 594.7 772.0 594.9 773.3 595.1C774.6 595.3 776.0 595.5 777.3 595.7C778.6 595.9 780.0 596.1 781.3 596.3C782.6 596.5 784.0 596.7 785.3 596.8C786.6 597.0 788.0 597.2 789.3 597.4C790.6 597.6 792.0 597.8 793.3 597.9C794.6 598.1 796.0 598.3 797.3 598.4C798.6 598.6 800.0 598.8 801.3 598.9C802.6 599.1 804.0 599.3 805.3 599.4C806.6 599.6 808.0 599.8 809.3 599.9C810.6 600.1 812.0 600.2 813.3 600.4C814.6 600.6 816.0 600.7 817.3 600.9C818.6 601.0 820.0 601.2 821.3 601.4C822.6 601.5 824.3 601.7 825.3 601.8C826.2 601.9 826.7 602.0 827.0 602.0" stroke="#800000" stroke-width="2.5" stroke-dasharray="5.5 7.2 0.01 7.15 0.01 7.65"/>
<path d="M555.3 501.4C555.5 501.0 556.3 499.6 556.8 498.8C557.3 498.0 557.8 497.2 558.3 496.6C558.8 495.9 559.3 495.3 559.8 494.7C560.3 494.2 560.8 493.7 561.3 493.2C561.8 492.8 562.3 492.4 562.8 492.1C563.3 491.7 563.8 491.4 564.3 491.2C564.8 491.0 565.3 490.8 565.8 490.6C566.3 490.5 566.8 490.4 567.3 490.3C567.8 490.2 568.3 490.2 568.8 490.2C569.3 490.2 569.8 490.3 570.3 490.3C570.8 490.4 571.3 490.5 571.8 490.6C572.3 490.8 572.8 490.9 573.3 491.1C573.8 491.3 574.3 491.5 574.8 491.7C575.3 491.9 575.8 492.2 576.3 492.4C576.8 492.7 577.3 493.0 577.8 493.2C578.3 493.5 578.8 493.8 579.3 494.1C579.8 494.4 580.3 494.8 580.8 495.1C581.3 495.4 581.8 495.8 582.3 496.1C582.8 496.5 583.3 496.8 583.8 497.2C584.3 497.6 584.4 497.6 585.3 498.3C586.2 499.1 588.0 500.5 589.3 501.6C590.6 502.8 592.0 504.0 593.3 505.2C594.6 506.4 596.0 507.6 597.3 508.9C598.6 510.1 600.0 511.4 601.3 512.7C602.6 513.9 604.0 515.2 605.3 516.4C606.6 517.7 608.0 518.9 609.3 520.1C610.6 521.3 612.0 522.5 613.3 523.6C614.6 524.8 616.0 526.0 617.3 527.1C618.6 528.2 620.0 529.4 621.3 530.5C622.6 531.6 624.0 532.6 625.3 533.7C626.6 534.8 628.0 535.8 629.3 536.9C630.6 537.9 632.0 538.9 633.3 539.9C634.6 540.9 636.0 541.9 637.3 542.9C638.6 543.8 640.0 544.8 641.3 545.7C642.6 546.6 644.0 547.5 645.3 548.4C646.6 549.3 648.0 550.2 649.3 551.1C650.6 551.9 652.0 552.8 653.3 553.6C654.6 554.4 656.0 555.3 657.3 556.1C658.6 556.9 660.0 557.6 661.3 558.4C662.6 559.2 664.0 559.9 665.3 560.7C666.6 561.4 668.0 562.1 669.3 562.8C670.6 563.5 672.0 564.2 673.3 564.9C674.6 565.6 676.0 566.2 677.3 566.9C678.6 567.5 680.0 568.2 681.3 568.8C682.6 569.4 684.0 570.0 685.3 570.6C686.6 571.2 688.0 571.8 689.3 572.4C690.6 572.9 692.0 573.5 693.3 574.0C694.6 574.6 696.0 575.1 697.3 575.6C698.6 576.2 700.0 576.7 701.3 577.2C702.6 577.7 704.0 578.1 705.3 578.6C706.6 579.1 708.0 579.5 709.3 580.0C710.6 580.5 712.0 580.9 713.3 581.3C714.6 581.8 716.0 582.2 717.3 582.6C718.6 583.0 720.0 583.4 721.3 583.8C722.6 584.2 724.0 584.6 725.3 584.9C726.6 585.3 728.0 585.7 729.3 586.0C730.6 586.4 732.0 586.7 733.3 587.1C734.6 587.4 736.0 587.7 737.3 588.1C738.6 588.4 740.0 588.7 741.3 589.0C742.6 589.3 744.0 589.6 745.3 589.9C746.6 590.2 748.0 590.5 749.3 590.7C750.6 591.0 752.0 591.3 753.3 591.6C754.6 591.8 756.0 592.1 757.3 592.3C758.6 592.6 760.0 592.8 761.3 593.1C762.6 593.3 764.0 593.5 765.3 593.8C766.6 594.0 768.0 594.2 769.3 594.4C770.6 594.7 772.0 594.9 773.3 595.1C774.6 595.3 776.0 595.5 777.3 595.7C778.6 595.9 780.0 596.1 781.3 596.3C782.6 596.5 784.0 596.7 785.3 596.8C786.6 597.0 788.0 597.2 789.3 597.4C790.6 597.6 792.0 597.8 793.3 597.9C794.6 598.1 796.0 598.3 797.3 598.4C798.6 598.6 800.0 598.8 801.3 598.9C802.6 599.1 804.0 599.3 805.3 599.4C806.6 599.6 808.0 599.8 809.3 599.9C810.6 600.1 812.0 600.2 813.3 600.4C814.6 600.6 816.0 600.7 817.3 600.9C818.6 601.0 820.0 601.2 821.3 601.4C822.6 601.5 824.3 601.7 825.3 601.8C826.2 601.9 826.7 602.0 827.0 602.0" stroke="#8000ff" stroke-width="2.7" stroke-dasharray="0.01 7.5"/>
<path d="M555.3 501.3C555.5 500.9 556.3 499.8 556.8 499.2C557.3 498.5 557.8 497.9 558.3 497.4C558.8 496.8 559.3 496.3 559.8 495.8C560.3 495.4 560.8 494.9 561.3 494.5C561.8 494.1 562.3 493.8 562.8 493.5C563.3 493.1 563.8 492.8 564.3 492.6C564.8 492.3 565.3 492.1 565.8 491.9C566.3 491.7 566.8 491.5 567.3 491.4C567.8 491.2 568.3 491.1 568.8 491.0C569.3 490.9 569.8 490.8 570.3 490.7C570.8 490.6 571.3 490.6 571.8 490.6C572.3 490.5 572.8 490.5 573.3 490.5C573.8 490.5 574.3 490.5 574.8 490.5C575.3 490.5 575.8 490.6 576.3 490.6C576.8 490.6 577.3 490.7 577.8 490.7C578.3 490.8 578.8 490.8 579.3 490.9C579.8 491.0 580.3 491.0 580.8 491.1C581.3 491.2 581.8 491.3 582.3 491.3C582.8 491.4 583.3 491.5 583.8 491.6C584.3 491.7 584.4 491.7 585.3 492.0C586.2 492.2 588.0 492.6 589.3 493.0C590.6 493.4 592.0 493.9 593.3 494.3C594.6 494.8 596.0 495.3 597.3 495.8C598.6 496.4 600.0 496.9 601.3 497.5C602.6 498.1 604.0 498.8 605.3 499.4C606.6 500.0 608.0 500.7 609.3 501.4C610.6 502.1 612.0 502.8 613.3 503.5C614.6 504.2 616.0 505.0 617.3 505.7C618.6 506.5 620.0 507.3 621.3 508.0C622.6 508.8 624.0 509.6 625.3 510.4C626.6 511.2 628.0 512.0 629.3 512.8C630.6 513.6 632.0 514.4 633.3 515.2C634.6 516.0 636.0 516.8 637.3 517.6C638.6 518.4 640.0 519.2 641.3 519.9C642.6 520.7 644.0 521.5 645.3 522.2C646.6 523.0 648.0 523.7 649.3 524.5C650.6 525.2 652.0 526.0 653.3 526.7C654.6 527.4 656.0 528.1 657.3 528.8C658.6 529.5 660.0 530.2 661.3 530.9C662.6 531.6 664.0 532.3 665.3 533.0C666.6 533.7 668.0 534.3 669.3 535.0C670.6 535.7 672.0 536.3 673.3 537.0C674.6 537.6 676.0 538.2 677.3 538.9C678.6 539.5 680.0 540.1 681.3 540.8C682.6 541.4 684.0 542.0 685.3 542.6C686.6 543.2 688.0 543.8 689.3 544.4C690.6 545.0 692.0 545.6 693.3 546.1C694.6 546.7 696.0 547.3 697.3 547.8C698.6 548.4 700.0 549.0 701.3 549.5C702.6 550.1 704.0 550.6 705.3 551.1C706.6 551.7 708.0 552.2 709.3 552.7C710.6 553.3 712.0 553.8 713.3 554.3C714.6 554.8 716.0 555.3 717.3 555.8C718.6 556.3 720.0 556.8 721.3 557.3C722.6 557.8 724.0 558.2 725.3 558.7C726.6 559.2 728.0 559.6 729.3 560.1C730.6 560.6 732.0 561.0 733.3 561.5C734.6 561.9 736.0 562.4 737.3 562.8C738.6 563.2 740.0 563.7 741.3 564.1C742.6 564.5 744.0 564.9 745.3 565.3C746.6 565.7 748.0 566.2 749.3 566.6C750.6 567.0 752.0 567.4 753.3 567.7C754.6 568.1 756.0 568.5 757.3 568.9C758.6 569.3 760.0 569.6 761.3 570.0C762.6 570.4 764.0 570.7 765.3 571.1C766.6 571.4 768.0 571.8 769.3 572.1C770.6 572.5 772.0 572.8 773.3 573.2C774.6 573.5 776.0 573.8 777.3 574.2C778.6 574.5 780.0 574.8 781.3 575.1C782.6 575.4 784.0 575.7 785.3 576.0C786.6 576.3 788.0 576.6 789.3 576.9C790.6 577.2 792.0 577.5 793.3 577.8C794.6 578.1 796.0 578.4 797.3 578.6C798.6 578.9 800.0 579.2 801.3 579.4C802.6 579.7 804.0 580.0 805.3 580.2C806.6 580.5 808.0 580.7 809.3 581.0C810.6 581.2 812.0 581.4 813.3 581.7C814.6 581.9 816.0 582.2 817.3 582.4C818.6 582.6 820.0 582.8 821.3 583.0C822.6 583.3 824.0 583.5 825.3 583.7C826.6 583.9 828.0 584.1 829.3 584.3C830.6 584.5 832.0 584.7 833.3 584.9C834.6 585.1 836.0 585.3 837.3 585.5C838.6 585.6 840.0 585.8 841.3 586.0C842.6 586.2 844.4 586.4 845.0 586.5" stroke="#ff8000" stroke-width="2.5" stroke-dasharray="6.55 7.0 0.01 7.65"/>
</g>
<path d="M555.3 625.5 H908.6" stroke="#ff00ff" stroke-width="2.0" stroke-dasharray="5.5 3.55 1.75 3.55" stroke-dashoffset="0.5" fill="none"/>
<rect x="759.0" y="436.7" width="147.0" height="84.6" fill="#fff" stroke="#808080" stroke-width="1"/>
<path d="M769.4 455.3 H810.5" stroke="#ff8000" stroke-width="2.4" stroke-linecap="round" stroke-dasharray="7.4 7.7 0.01 7.7"/>
<text x="818.4" y="462.0" font-size="20">BSk20</text>
<path d="M769.4 479.6 H811.0" stroke="#800000" stroke-width="2.4" stroke-linecap="round" stroke-dasharray="6.8 6.6 0.01 6.9 0.01 7.35"/>
<text x="818.4" y="486.3" font-size="20">BSk21</text>
<path d="M769.1 504.1 H810.5" stroke="#8000ff" stroke-width="2.7" stroke-linecap="round" stroke-dasharray="0.01 7.6"/>
<text x="818.4" y="510.8" font-size="20">BSk22</text>
<rect x="555.3" y="418.7" width="353.3" height="248.2" fill="none" stroke="#000" stroke-width="2.2"/>
<path d="M555.3 666.9v-9.7M555.3 418.7v9.7M673.1 666.9v-9.7M673.1 418.7v9.7M790.8 666.9v-9.7M790.8 418.7v9.7M908.6 666.9v-9.7M908.6 418.7v9.7M555.3 584.2h9.7M908.6 584.2h-9.7M555.3 501.4h9.7M908.6 501.4h-9.7M555.3 418.7h9.7M908.6 418.7h-9.7" stroke="#000" stroke-width="1.9" fill="none"/>
<path d="M584.7 666.9v-5.2M584.7 418.7v5.2M614.2 666.9v-5.2M614.2 418.7v5.2M643.6 666.9v-5.2M643.6 418.7v5.2M702.5 666.9v-5.2M702.5 418.7v5.2M732.0 666.9v-5.2M732.0 418.7v5.2M761.4 666.9v-5.2M761.4 418.7v5.2M820.3 666.9v-5.2M820.3 418.7v5.2M849.7 666.9v-5.2M849.7 418.7v5.2M879.2 666.9v-5.2M879.2 418.7v5.2M555.3 666.9h5.2M908.6 666.9h-5.2M555.3 646.2h5.2M908.6 646.2h-5.2M555.3 625.5h5.2M908.6 625.5h-5.2M555.3 604.9h5.2M908.6 604.9h-5.2M555.3 563.5h5.2M908.6 563.5h-5.2M555.3 542.8h5.2M908.6 542.8h-5.2M555.3 522.1h5.2M908.6 522.1h-5.2M555.3 480.8h5.2M908.6 480.8h-5.2M555.3 460.1h5.2M908.6 460.1h-5.2M555.3 439.4h5.2M908.6 439.4h-5.2" stroke="#000" stroke-width="1.65" fill="none"/>
<text transform="translate(555.3 700.9) scale(1 1.040)" font-size="31.4" text-anchor="middle">0.0</text>
<text transform="translate(673.1 700.9) scale(1 1.040)" font-size="31.4" text-anchor="middle">0.4</text>
<text transform="translate(790.8 700.9) scale(1 1.040)" font-size="31.4" text-anchor="middle">0.8</text>
<text transform="translate(546.6 594.4) scale(1 1.040)" font-size="31.4" text-anchor="end">-2</text>
<text transform="translate(546.6 511.6) scale(1 1.040)" font-size="31.4" text-anchor="end">0</text>
<text transform="translate(546.6 428.9) scale(1 1.040)" font-size="31.4" text-anchor="end">2</text>
</g>
<g id="panel-c">
<clipPath id="clip-c"><rect x="91.7" y="744.6" width="353.3" height="248.3"/></clipPath>
<g clip-path="url(#clip-c)" fill="none" stroke-linecap="round" stroke-linejoin="round">
<path d="M91.7 889.9C92.0 889.3 92.7 887.1 93.2 886.2C93.7 885.3 94.2 884.8 94.7 884.4C95.2 884.1 95.7 884.1 96.2 884.2C96.7 884.3 97.2 884.6 97.7 884.9C98.2 885.3 98.7 885.7 99.2 886.2C99.7 886.6 100.2 887.1 100.7 887.5C101.2 887.9 101.7 888.3 102.2 888.7C102.7 889.1 103.2 889.4 103.7 889.8C104.2 890.1 104.7 890.4 105.2 890.8C105.7 891.1 106.2 891.4 106.7 891.7C107.2 892.0 107.7 892.3 108.2 892.6C108.7 892.9 109.2 893.1 109.7 893.4C110.2 893.7 110.7 894.0 111.2 894.3C111.7 894.6 112.2 894.9 112.7 895.2C113.2 895.5 113.7 895.8 114.2 896.2C114.7 896.5 115.2 896.8 115.7 897.1C116.2 897.5 116.7 897.8 117.2 898.1C117.7 898.5 118.2 898.8 118.7 899.1C119.2 899.5 119.7 899.8 120.2 900.2C120.7 900.5 120.8 900.6 121.7 901.2C122.6 901.8 124.4 903.0 125.7 903.9C127.0 904.8 128.4 905.8 129.7 906.6C131.0 907.5 132.4 908.4 133.7 909.2C135.0 910.0 136.4 910.8 137.7 911.6C139.0 912.3 140.4 913.1 141.7 913.7C143.0 914.4 144.4 915.1 145.7 915.7C147.0 916.3 148.4 916.8 149.7 917.3C151.0 917.9 152.4 918.3 153.7 918.7C155.0 919.1 156.4 919.5 157.7 919.9C159.0 920.2 160.4 920.5 161.7 920.7C163.0 921.0 164.4 921.2 165.7 921.3C167.0 921.5 168.4 921.6 169.7 921.7C171.0 921.8 172.4 921.9 173.7 921.9C175.0 921.9 176.4 921.9 177.7 921.9C179.0 921.8 180.4 921.7 181.7 921.6C183.0 921.5 184.4 921.4 185.7 921.2C187.0 921.0 188.4 920.8 189.7 920.6C191.0 920.3 192.4 920.1 193.7 919.8C195.0 919.5 196.4 919.2 197.7 918.9C199.0 918.5 200.4 918.2 201.7 917.8C203.0 917.4 204.4 917.0 205.7 916.6C207.0 916.1 208.4 915.7 209.7 915.2C211.0 914.8 212.4 914.3 213.7 913.8C215.0 913.3 216.4 912.7 217.7 912.2C219.0 911.7 220.4 911.1 221.7 910.6C223.0 910.0 224.4 909.4 225.7 908.8C227.0 908.2 228.4 907.6 229.7 907.0C231.0 906.4 232.4 905.8 233.7 905.2C235.0 904.5 236.4 903.9 237.7 903.2C239.0 902.6 240.4 901.9 241.7 901.2C243.0 900.5 244.4 899.8 245.7 899.1C247.0 898.4 248.4 897.7 249.7 897.0C251.0 896.3 252.4 895.5 253.7 894.8C255.0 894.1 256.4 893.3 257.7 892.6C259.0 891.8 260.4 891.0 261.7 890.3C263.0 889.5 264.4 888.7 265.7 887.9C267.0 887.1 268.4 886.3 269.7 885.5C271.0 884.7 272.4 883.9 273.7 883.1C275.0 882.3 276.4 881.5 277.7 880.7C279.0 879.8 280.4 879.0 281.7 878.2C283.0 877.3 284.4 876.5 285.7 875.6C287.0 874.8 288.4 873.9 289.7 873.1C291.0 872.2 292.4 871.4 293.7 870.5C295.0 869.6 296.4 868.8 297.7 867.9C299.0 867.0 300.4 866.2 301.7 865.3C303.0 864.4 304.4 863.5 305.7 862.7C307.0 861.8 308.4 860.9 309.7 860.0C311.0 859.1 312.4 858.2 313.7 857.4C315.0 856.5 316.4 855.6 317.7 854.7C319.0 853.8 320.4 852.9 321.7 852.1C323.0 851.2 324.4 850.3 325.7 849.4C327.0 848.5 328.4 847.6 329.7 846.7C331.0 845.9 332.4 845.0 333.7 844.1C335.0 843.2 336.4 842.3 337.7 841.5C339.0 840.6 340.4 839.7 341.7 838.9C343.0 838.0 344.4 837.1 345.7 836.3C347.0 835.4 348.4 834.5 349.7 833.7C351.0 832.8 352.4 832.0 353.7 831.1C355.0 830.3 356.4 829.4 357.7 828.6C359.0 827.8 360.4 826.9 361.7 826.1C363.0 825.3 364.4 824.5 365.7 823.6C367.0 822.8 368.4 822.0 369.7 821.2C371.0 820.4 372.4 819.6 373.7 818.8C375.0 818.1 376.4 817.3 377.7 816.5C379.0 815.7 380.4 815.0 381.7 814.2C383.0 813.4 384.4 812.7 385.7 811.9C387.0 811.2 388.4 810.4 389.7 809.6C391.0 808.9 392.4 808.1 393.7 807.4C395.0 806.6 396.4 805.9 397.7 805.1C399.0 804.3 400.4 803.6 401.7 802.8C403.0 802.0 404.4 801.3 405.7 800.5C407.0 799.7 408.4 798.9 409.7 798.1C411.0 797.3 412.4 796.5 413.7 795.7C415.0 794.9 416.4 794.1 417.7 793.3C419.0 792.5 420.4 791.6 421.7 790.9C423.0 790.1 424.4 789.3 425.7 788.5C427.0 787.8 428.4 787.0 429.7 786.3C431.0 785.6 432.4 784.9 433.7 784.2C435.0 783.6 436.4 782.9 437.7 782.3C439.0 781.7 440.5 781.1 441.7 780.7C442.9 780.2 444.4 779.7 445.0 779.5" stroke="#0000ff" stroke-width="2.7" stroke-dasharray="0.01 9.8"/>
<path d="M91.7 889.9C92.0 889.4 92.7 887.7 93.2 886.8C93.7 886.0 94.2 885.3 94.7 884.8C95.2 884.2 95.7 883.8 96.2 883.5C96.7 883.3 97.2 883.1 97.7 883.1C98.2 883.0 98.7 883.1 99.2 883.2C99.7 883.4 100.2 883.6 100.7 883.9C101.2 884.2 101.7 884.5 102.2 884.9C102.7 885.3 103.2 885.8 103.7 886.2C104.2 886.7 104.7 887.2 105.2 887.6C105.7 888.1 106.2 888.6 106.7 889.1C107.2 889.6 107.7 890.1 108.2 890.6C108.7 891.0 109.2 891.5 109.7 892.0C110.2 892.5 110.7 893.0 111.2 893.5C111.7 894.0 112.2 894.5 112.7 895.0C113.2 895.5 113.7 896.0 114.2 896.5C114.7 896.9 115.2 897.4 115.7 897.9C116.2 898.4 116.7 898.8 117.2 899.3C117.7 899.8 118.2 900.3 118.7 900.7C119.2 901.2 119.7 901.6 120.2 902.1C120.7 902.6 120.8 902.6 121.7 903.4C122.6 904.3 124.4 905.8 125.7 906.9C127.0 908.0 128.4 909.1 129.7 910.2C131.0 911.2 132.4 912.2 133.7 913.2C135.0 914.1 136.4 915.0 137.7 915.9C139.0 916.7 140.4 917.5 141.7 918.3C143.0 919.0 144.4 919.7 145.7 920.3C147.0 921.0 148.4 921.6 149.7 922.1C151.0 922.6 152.4 923.1 153.7 923.6C155.0 924.0 156.4 924.4 157.7 924.8C159.0 925.1 160.4 925.4 161.7 925.7C163.0 925.9 164.4 926.2 165.7 926.3C167.0 926.5 168.4 926.6 169.7 926.7C171.0 926.8 172.4 926.9 173.7 926.9C175.0 926.9 176.4 926.9 177.7 926.8C179.0 926.8 180.4 926.7 181.7 926.5C183.0 926.4 184.4 926.2 185.7 926.0C187.0 925.8 188.4 925.6 189.7 925.3C191.0 925.1 192.4 924.8 193.7 924.5C195.0 924.1 196.4 923.8 197.7 923.4C199.0 923.0 200.4 922.6 201.7 922.2C203.0 921.8 204.4 921.3 205.7 920.8C207.0 920.3 208.4 919.8 209.7 919.3C211.0 918.8 212.4 918.2 213.7 917.7C215.0 917.1 216.4 916.5 217.7 915.9C219.0 915.3 220.4 914.7 221.7 914.0C223.0 913.4 224.4 912.7 225.7 912.0C227.0 911.4 228.4 910.7 229.7 910.0C231.0 909.3 232.4 908.6 233.7 907.9C235.0 907.1 236.4 906.4 237.7 905.6C239.0 904.9 240.4 904.1 241.7 903.4C243.0 902.6 244.4 901.8 245.7 901.0C247.0 900.2 248.4 899.4 249.7 898.6C251.0 897.8 252.4 897.0 253.7 896.2C255.0 895.4 256.4 894.5 257.7 893.7C259.0 892.9 260.4 892.0 261.7 891.2C263.0 890.3 264.4 889.4 265.7 888.6C267.0 887.7 268.4 886.8 269.7 886.0C271.0 885.1 272.4 884.2 273.7 883.3C275.0 882.4 276.4 881.6 277.7 880.7C279.0 879.8 280.4 878.9 281.7 878.0C283.0 877.1 284.4 876.2 285.7 875.3C287.0 874.4 288.4 873.5 289.7 872.6C291.0 871.7 292.4 870.8 293.7 869.9C295.0 868.9 296.4 868.0 297.7 867.1C299.0 866.2 300.4 865.3 301.7 864.4C303.0 863.5 304.4 862.6 305.7 861.7C307.0 860.8 308.4 859.9 309.7 859.0C311.0 858.1 312.4 857.2 313.7 856.4C315.0 855.5 316.4 854.6 317.7 853.7C319.0 852.8 320.4 852.0 321.7 851.1C323.0 850.2 324.4 849.3 325.7 848.5C327.0 847.6 328.4 846.8 329.7 845.9C331.0 845.0 332.4 844.2 333.7 843.4C335.0 842.5 336.4 841.7 337.7 840.8C339.0 840.0 340.4 839.2 341.7 838.3C343.0 837.5 344.4 836.7 345.7 835.9C347.0 835.1 348.4 834.3 349.7 833.5C351.0 832.7 352.4 831.9 353.7 831.1C355.0 830.3 356.4 829.5 357.7 828.7C359.0 827.9 360.4 827.2 361.7 826.4C363.0 825.6 364.4 824.9 365.7 824.1C367.0 823.3 368.4 822.6 369.7 821.9C371.0 821.1 372.4 820.4 373.7 819.6C375.0 818.9 376.4 818.2 377.7 817.5C379.0 816.8 380.4 816.1 381.7 815.4C383.0 814.7 384.4 814.0 385.7 813.3C387.0 812.6 388.4 811.9 389.7 811.2C391.0 810.6 392.4 809.9 393.7 809.2C395.0 808.6 396.4 807.9 397.7 807.3C399.0 806.7 400.4 806.0 401.7 805.4C403.0 804.8 404.4 804.2 405.7 803.6C407.0 803.0 408.4 802.4 409.7 801.8C411.0 801.2 412.4 800.6 413.7 800.0C415.0 799.5 416.4 798.9 417.7 798.3C419.0 797.8 420.4 797.2 421.7 796.7C423.0 796.2 424.4 795.6 425.7 795.1C427.0 794.6 428.4 794.1 429.7 793.6C431.0 793.1 432.4 792.6 433.7 792.2C435.0 791.7 436.4 791.2 437.7 790.7C439.0 790.3 440.5 789.8 441.7 789.4C442.9 789.0 444.4 788.5 445.0 788.3" stroke="#ff0000" stroke-width="2.5" stroke-dasharray="5.4 10.3"/>
<path d="M92.0 887.8C92.2 886.9 93.0 883.3 93.5 882.0C94.0 880.8 94.5 880.7 95.0 880.5C95.5 880.3 96.0 880.7 96.5 880.9C97.0 881.1 97.5 881.4 98.0 881.7C98.5 882.0 99.0 882.3 99.5 882.7C100.0 883.0 100.5 883.4 101.0 883.8C101.5 884.1 102.0 884.5 102.5 884.9C103.0 885.4 103.5 885.8 104.0 886.2C104.5 886.6 105.0 887.1 105.5 887.6C106.0 888.0 106.5 888.5 107.0 889.0C107.5 889.4 108.0 889.9 108.5 890.4C109.0 890.9 109.5 891.4 110.0 891.9C110.5 892.4 111.0 892.9 111.5 893.4C112.0 893.9 112.5 894.4 113.0 895.0C113.5 895.5 114.0 896.0 114.5 896.5C115.0 897.0 115.5 897.5 116.0 898.0C116.5 898.5 117.0 899.0 117.5 899.5C118.0 900.0 118.5 900.5 119.0 901.0C119.5 901.5 120.0 902.0 120.5 902.5C121.0 903.0 121.1 903.1 122.0 904.0C122.9 904.8 124.7 906.5 126.0 907.8C127.3 909.0 128.7 910.2 130.0 911.4C131.3 912.5 132.7 913.7 134.0 914.7C135.3 915.8 136.7 916.8 138.0 917.8C139.3 918.8 140.7 919.7 142.0 920.5C143.3 921.4 144.7 922.1 146.0 922.9C147.3 923.6 148.7 924.3 150.0 924.9C151.3 925.5 152.7 926.1 154.0 926.6C155.3 927.1 156.7 927.5 158.0 927.9C159.3 928.3 160.7 928.7 162.0 929.0C163.3 929.2 164.7 929.5 166.0 929.7C167.3 929.9 168.7 930.0 170.0 930.1C171.3 930.2 172.7 930.2 174.0 930.2C175.3 930.2 176.7 930.2 178.0 930.1C179.3 930.0 180.7 929.8 182.0 929.6C183.3 929.4 184.7 929.2 186.0 928.9C187.3 928.6 188.7 928.3 190.0 927.9C191.3 927.6 192.7 927.2 194.0 926.7C195.3 926.3 196.7 925.8 198.0 925.3C199.3 924.7 200.7 924.2 202.0 923.6C203.3 923.0 204.7 922.3 206.0 921.7C207.3 921.0 208.7 920.3 210.0 919.6C211.3 918.9 212.7 918.1 214.0 917.4C215.3 916.6 216.7 915.8 218.0 915.0C219.3 914.2 220.7 913.3 222.0 912.5C223.3 911.7 224.7 910.8 226.0 910.0C227.3 909.1 228.7 908.2 230.0 907.4C231.3 906.5 232.7 905.6 234.0 904.7C235.3 903.8 236.7 903.0 238.0 902.1C239.3 901.2 240.7 900.3 242.0 899.4C243.3 898.6 244.7 897.7 246.0 896.8C247.3 895.9 248.7 895.0 250.0 894.2C251.3 893.3 252.7 892.4 254.0 891.5C255.3 890.6 256.7 889.7 258.0 888.7C259.3 887.8 260.7 886.9 262.0 885.9C263.3 885.0 264.7 884.0 266.0 883.0C267.3 882.1 268.7 881.1 270.0 880.0C271.3 879.0 272.7 878.0 274.0 876.9C275.3 875.9 276.7 874.8 278.0 873.8C279.3 872.7 280.7 871.6 282.0 870.6C283.3 869.5 284.7 868.4 286.0 867.3C287.3 866.3 288.7 865.2 290.0 864.2C291.3 863.1 292.7 862.1 294.0 861.1C295.3 860.1 296.7 859.1 298.0 858.1C299.3 857.1 300.7 856.1 302.0 855.2C303.3 854.3 304.7 853.3 306.0 852.4C307.3 851.5 308.7 850.6 310.0 849.7C311.3 848.8 312.7 848.0 314.0 847.1C315.3 846.3 316.7 845.4 318.0 844.6C319.3 843.8 320.7 843.0 322.0 842.2C323.3 841.4 324.7 840.6 326.0 839.8C327.3 839.1 328.7 838.3 330.0 837.6C331.3 836.8 332.7 836.1 334.0 835.4C335.3 834.7 336.7 834.0 338.0 833.3C339.3 832.6 340.7 831.9 342.0 831.3C343.3 830.6 344.7 830.0 346.0 829.3C347.3 828.7 348.7 828.1 350.0 827.5C351.3 826.8 352.7 826.2 354.0 825.7C355.3 825.1 356.7 824.5 358.0 823.9C359.3 823.3 360.7 822.8 362.0 822.2C363.3 821.7 364.7 821.1 366.0 820.6C367.3 820.1 368.7 819.6 370.0 819.1C371.3 818.5 372.7 818.0 374.0 817.6C375.3 817.1 376.7 816.6 378.0 816.1C379.3 815.6 380.7 815.2 382.0 814.7C383.3 814.3 384.7 813.8 386.0 813.4C387.3 812.9 388.7 812.5 390.0 812.1C391.3 811.6 392.7 811.2 394.0 810.8C395.3 810.4 396.7 810.0 398.0 809.6C399.3 809.2 400.7 808.8 402.0 808.5C403.3 808.1 404.7 807.7 406.0 807.3C407.3 807.0 408.7 806.6 410.0 806.3C411.3 805.9 412.7 805.6 414.0 805.2C415.3 804.9 416.7 804.5 418.0 804.2C419.3 803.9 420.7 803.6 422.0 803.2C423.3 802.9 424.7 802.6 426.0 802.3C427.3 802.0 428.7 801.7 430.0 801.4C431.3 801.1 432.7 800.8 434.0 800.5C435.3 800.3 436.7 800.0 438.0 799.7C439.3 799.4 440.8 799.1 442.0 798.9C443.2 798.7 444.5 798.4 445.0 798.3" stroke="#000" stroke-width="2.4"/>
<path d="M91.7 901.9C92.0 901.5 92.7 900.3 93.2 899.6C93.7 898.9 94.2 898.4 94.7 897.9C95.2 897.5 95.7 897.1 96.2 896.8C96.7 896.5 97.2 896.3 97.7 896.2C98.2 896.1 98.7 896.0 99.2 896.0C99.7 896.0 100.2 896.1 100.7 896.1C101.2 896.2 101.7 896.4 102.2 896.6C102.7 896.8 103.2 897.0 103.7 897.2C104.2 897.5 104.7 897.7 105.2 898.0C105.7 898.3 106.2 898.6 106.7 898.9C107.2 899.2 107.7 899.5 108.2 899.9C108.7 900.2 109.2 900.5 109.7 900.9C110.2 901.2 110.7 901.6 111.2 902.0C111.7 902.4 112.2 902.7 112.7 903.1C113.2 903.5 113.7 903.9 114.2 904.3C114.7 904.7 115.2 905.1 115.7 905.5C116.2 905.9 116.7 906.3 117.2 906.8C117.7 907.2 118.2 907.6 118.7 908.0C119.2 908.4 119.7 908.8 120.2 909.3C120.7 909.7 120.8 909.8 121.7 910.5C122.6 911.2 124.4 912.7 125.7 913.7C127.0 914.7 128.4 915.7 129.7 916.5C131.0 917.4 132.4 918.2 133.7 918.9C135.0 919.7 136.4 920.3 137.7 921.0C139.0 921.6 140.4 922.2 141.7 922.8C143.0 923.4 144.4 924.0 145.7 924.6C147.0 925.2 148.4 925.9 149.7 926.6C151.0 927.2 152.4 928.0 153.7 928.6C155.0 929.2 156.4 929.8 157.7 930.4C159.0 930.9 160.4 931.4 161.7 931.9C163.0 932.4 164.4 932.8 165.7 933.1C167.0 933.5 168.4 933.8 169.7 934.2C171.0 934.5 172.4 934.8 173.7 935.0C175.0 935.3 176.4 935.5 177.7 935.8C179.0 936.0 180.4 936.2 181.7 936.4C183.0 936.6 184.4 936.8 185.7 937.0C187.0 937.2 188.4 937.4 189.7 937.6C191.0 937.8 192.4 938.0 193.7 938.2C195.0 938.4 196.4 938.5 197.7 938.7C199.0 938.9 200.4 939.0 201.7 939.2C203.0 939.3 204.4 939.5 205.7 939.6C207.0 939.8 208.4 939.9 209.7 940.0C211.0 940.2 212.4 940.3 213.7 940.4C215.0 940.5 216.4 940.7 217.7 940.8C219.0 940.9 220.4 941.0 221.7 941.1C223.0 941.2 224.4 941.3 225.7 941.4C227.0 941.5 228.4 941.6 229.7 941.7C231.0 941.7 232.4 941.8 233.7 941.9C235.0 942.0 236.4 942.1 237.7 942.1C239.0 942.2 240.4 942.2 241.7 942.3C243.0 942.4 244.4 942.4 245.7 942.5C247.0 942.5 248.4 942.6 249.7 942.6C251.0 942.7 252.4 942.7 253.7 942.7C255.0 942.8 256.4 942.8 257.7 942.8C259.0 942.9 260.4 942.9 261.7 942.9C263.0 942.9 264.4 942.9 265.7 943.0C267.0 943.0 268.4 943.0 269.7 943.0C271.0 943.0 272.4 943.0 273.7 943.0C275.0 943.0 276.4 943.0 277.7 943.0C279.0 943.0 280.4 943.0 281.7 943.0C283.0 943.0 284.4 943.0 285.7 943.0C287.0 943.0 288.4 942.9 289.7 942.9C291.0 942.9 292.4 942.9 293.7 942.9C295.0 942.8 296.4 942.8 297.7 942.8C299.0 942.8 300.4 942.7 301.7 942.7C303.0 942.7 304.4 942.6 305.7 942.6C307.0 942.6 308.4 942.5 309.7 942.5C311.0 942.5 312.4 942.4 313.7 942.4C315.0 942.3 316.4 942.3 317.7 942.3C319.0 942.2 320.4 942.2 321.7 942.1C323.0 942.1 324.4 942.0 325.7 942.0C327.0 941.9 328.4 941.9 329.7 941.8C331.0 941.8 332.4 941.7 333.7 941.7C335.0 941.6 336.4 941.6 337.7 941.5C339.0 941.5 340.4 941.4 341.7 941.4C343.0 941.3 344.4 941.3 345.7 941.2C347.0 941.1 348.4 941.1 349.7 941.0C351.0 941.0 352.4 940.9 353.7 940.9C355.0 940.8 356.4 940.7 357.7 940.7C359.0 940.6 360.4 940.6 361.7 940.5C363.0 940.5 364.4 940.4 365.7 940.4C367.0 940.3 368.4 940.2 369.7 940.2C371.0 940.1 372.4 940.1 373.7 940.0C375.0 940.0 376.4 939.9 377.7 939.9C379.0 939.8 380.4 939.8 381.7 939.7C383.0 939.7 384.4 939.6 385.7 939.6C387.0 939.5 388.4 939.5 389.7 939.4C391.0 939.4 392.4 939.4 393.7 939.3C395.0 939.3 396.4 939.2 397.7 939.2C399.0 939.1 400.4 939.1 401.7 939.1C403.0 939.0 404.4 939.0 405.7 939.0C407.0 938.9 408.4 938.9 409.7 938.9C411.0 938.8 412.4 938.8 413.7 938.8C415.0 938.8 416.4 938.7 417.7 938.7C419.0 938.7 420.4 938.7 421.7 938.7C423.0 938.7 424.4 938.6 425.7 938.6C427.0 938.6 428.4 938.6 429.7 938.6C431.0 938.6 432.4 938.6 433.7 938.6C435.0 938.6 436.4 938.6 437.7 938.6C439.0 938.6 440.5 938.6 441.7 938.6C442.9 938.6 444.4 938.7 445.0 938.7" stroke="#800000" stroke-width="2.5" stroke-dasharray="5.5 7.2 0.01 7.15 0.01 7.65"/>
<path d="M91.7 888.8C92.0 888.5 92.7 887.3 93.2 886.9C93.7 886.4 94.2 886.2 94.7 886.0C95.2 885.9 95.7 885.9 96.2 886.0C96.7 886.1 97.2 886.3 97.7 886.5C98.2 886.7 98.7 887.0 99.2 887.3C99.7 887.5 100.2 887.9 100.7 888.2C101.2 888.6 101.7 888.9 102.2 889.3C102.7 889.7 103.2 890.1 103.7 890.6C104.2 891.0 104.7 891.5 105.2 892.0C105.7 892.4 106.2 892.9 106.7 893.4C107.2 894.0 107.7 894.5 108.2 895.0C108.7 895.5 109.2 896.1 109.7 896.6C110.2 897.2 110.7 897.7 111.2 898.3C111.7 898.9 112.2 899.4 112.7 900.0C113.2 900.5 113.7 901.1 114.2 901.7C114.7 902.2 115.2 902.8 115.7 903.4C116.2 903.9 116.7 904.5 117.2 905.1C117.7 905.6 118.2 906.2 118.7 906.8C119.2 907.3 119.7 907.9 120.2 908.4C120.7 909.0 120.8 909.1 121.7 910.1C122.6 911.1 124.4 913.1 125.7 914.5C127.0 916.0 128.4 917.4 129.7 918.7C131.0 920.1 132.4 921.4 133.7 922.7C135.0 924.0 136.4 925.2 137.7 926.3C139.0 927.5 140.4 928.6 141.7 929.6C143.0 930.7 144.4 931.7 145.7 932.6C147.0 933.6 148.4 934.5 149.7 935.3C151.0 936.2 152.4 937.0 153.7 937.8C155.0 938.6 156.4 939.3 157.7 940.0C159.0 940.7 160.4 941.3 161.7 941.9C163.0 942.6 164.4 943.1 165.7 943.7C167.0 944.3 168.4 944.8 169.7 945.3C171.0 945.8 172.4 946.2 173.7 946.7C175.0 947.1 176.4 947.6 177.7 948.0C179.0 948.4 180.4 948.7 181.7 949.1C183.0 949.5 184.4 949.8 185.7 950.1C187.0 950.5 188.4 950.8 189.7 951.1C191.0 951.4 192.4 951.6 193.7 951.9C195.0 952.2 196.4 952.4 197.7 952.6C199.0 952.9 200.4 953.1 201.7 953.3C203.0 953.5 204.4 953.7 205.7 953.9C207.0 954.0 208.4 954.2 209.7 954.4C211.0 954.5 212.4 954.7 213.7 954.8C215.0 954.9 216.4 955.0 217.7 955.1C219.0 955.2 220.4 955.3 221.7 955.4C223.0 955.5 224.4 955.6 225.7 955.7C227.0 955.7 228.4 955.8 229.7 955.8C231.0 955.9 232.4 955.9 233.7 956.0C235.0 956.0 236.4 956.0 237.7 956.1C239.0 956.1 240.4 956.1 241.7 956.1C243.0 956.1 244.4 956.1 245.7 956.1C247.0 956.1 248.4 956.1 249.7 956.1C251.0 956.1 252.4 956.1 253.7 956.1C255.0 956.1 256.4 956.0 257.7 956.0C259.0 956.0 260.4 956.0 261.7 956.0C263.0 955.9 264.4 955.9 265.7 955.9C267.0 955.8 268.4 955.8 269.7 955.8C271.0 955.8 272.4 955.7 273.7 955.7C275.0 955.7 276.4 955.6 277.7 955.6C279.0 955.6 280.4 955.5 281.7 955.5C283.0 955.5 284.4 955.4 285.7 955.4C287.0 955.4 288.4 955.3 289.7 955.3C291.0 955.3 292.4 955.2 293.7 955.2C295.0 955.1 296.4 955.1 297.7 955.1C299.0 955.0 300.4 955.0 301.7 954.9C303.0 954.9 304.4 954.9 305.7 954.8C307.0 954.8 308.4 954.7 309.7 954.7C311.0 954.6 312.4 954.6 313.7 954.6C315.0 954.5 316.4 954.5 317.7 954.4C319.0 954.4 320.4 954.3 321.7 954.3C323.0 954.2 324.4 954.2 325.7 954.1C327.0 954.1 328.4 954.0 329.7 954.0C331.0 953.9 332.4 953.9 333.7 953.9C335.0 953.8 336.4 953.8 337.7 953.7C339.0 953.7 340.4 953.6 341.7 953.6C343.0 953.5 344.4 953.5 345.7 953.4C347.0 953.3 348.4 953.3 349.7 953.2C351.0 953.2 352.4 953.1 353.7 953.1C355.0 953.0 356.4 953.0 357.7 952.9C359.0 952.9 360.4 952.8 361.7 952.8C363.0 952.7 364.4 952.7 365.7 952.6C367.0 952.6 368.4 952.5 369.7 952.5C371.0 952.4 372.4 952.4 373.7 952.3C375.0 952.3 376.4 952.2 377.7 952.2C379.0 952.1 380.4 952.1 381.7 952.0C383.0 952.0 384.4 951.9 385.7 951.9C387.0 951.8 388.4 951.8 389.7 951.7C391.0 951.6 392.4 951.6 393.7 951.5C395.0 951.5 396.4 951.4 397.7 951.4C399.0 951.3 400.4 951.3 401.7 951.2C403.0 951.2 404.4 951.2 405.7 951.1C407.0 951.1 408.4 951.0 409.7 951.0C411.0 950.9 412.4 950.9 413.7 950.8C415.0 950.8 416.4 950.7 417.7 950.7C419.0 950.6 420.4 950.6 421.7 950.5C423.0 950.5 424.4 950.5 425.7 950.4C427.0 950.4 428.4 950.3 429.7 950.3C431.0 950.2 432.4 950.2 433.7 950.1C435.0 950.1 436.4 950.1 437.7 950.0C439.0 950.0 440.5 949.9 441.7 949.9C442.9 949.9 444.4 949.8 445.0 949.8" stroke="#8000ff" stroke-width="2.7" stroke-dasharray="0.01 7.5"/>
<path d="M91.7 896.9C92.0 896.4 92.7 894.5 93.2 893.7C93.7 892.9 94.2 892.3 94.7 891.9C95.2 891.5 95.7 891.3 96.2 891.2C96.7 891.1 97.2 891.2 97.7 891.3C98.2 891.4 98.7 891.7 99.2 891.9C99.7 892.2 100.2 892.5 100.7 892.8C101.2 893.2 101.7 893.5 102.2 893.9C102.7 894.2 103.2 894.6 103.7 895.0C104.2 895.4 104.7 895.8 105.2 896.3C105.7 896.7 106.2 897.1 106.7 897.6C107.2 898.0 107.7 898.5 108.2 898.9C108.7 899.4 109.2 899.9 109.7 900.3C110.2 900.8 110.7 901.3 111.2 901.7C111.7 902.2 112.2 902.7 112.7 903.2C113.2 903.6 113.7 904.1 114.2 904.6C114.7 905.0 115.2 905.5 115.7 906.0C116.2 906.4 116.7 906.9 117.2 907.3C117.7 907.8 118.2 908.2 118.7 908.7C119.2 909.1 119.7 909.6 120.2 910.0C120.7 910.4 120.8 910.5 121.7 911.3C122.6 912.1 124.4 913.6 125.7 914.7C127.0 915.8 128.4 916.8 129.7 917.8C131.0 918.9 132.4 919.9 133.7 920.8C135.0 921.8 136.4 922.7 137.7 923.6C139.0 924.5 140.4 925.3 141.7 926.2C143.0 927.0 144.4 927.8 145.7 928.5C147.0 929.2 148.4 930.0 149.7 930.6C151.0 931.3 152.4 932.0 153.7 932.6C155.0 933.2 156.4 933.8 157.7 934.4C159.0 934.9 160.4 935.5 161.7 936.0C163.0 936.5 164.4 937.0 165.7 937.4C167.0 937.9 168.4 938.3 169.7 938.7C171.0 939.1 172.4 939.5 173.7 939.9C175.0 940.3 176.4 940.6 177.7 940.9C179.0 941.3 180.4 941.6 181.7 941.9C183.0 942.2 184.4 942.4 185.7 942.7C187.0 943.0 188.4 943.2 189.7 943.5C191.0 943.7 192.4 943.9 193.7 944.2C195.0 944.4 196.4 944.6 197.7 944.8C199.0 945.0 200.4 945.1 201.7 945.3C203.0 945.5 204.4 945.6 205.7 945.8C207.0 945.9 208.4 946.1 209.7 946.2C211.0 946.3 212.4 946.4 213.7 946.5C215.0 946.6 216.4 946.7 217.7 946.8C219.0 946.9 220.4 947.0 221.7 947.0C223.0 947.1 224.4 947.2 225.7 947.2C227.0 947.3 228.4 947.3 229.7 947.3C231.0 947.4 232.4 947.4 233.7 947.4C235.0 947.4 236.4 947.4 237.7 947.4C239.0 947.4 240.4 947.4 241.7 947.4C243.0 947.4 244.4 947.4 245.7 947.3C247.0 947.3 248.4 947.3 249.7 947.2C251.0 947.2 252.4 947.1 253.7 947.1C255.0 947.0 256.4 947.0 257.7 946.9C259.0 946.9 260.4 946.8 261.7 946.7C263.0 946.6 264.4 946.6 265.7 946.5C267.0 946.4 268.4 946.3 269.7 946.2C271.0 946.1 272.4 946.0 273.7 945.9C275.0 945.8 276.4 945.7 277.7 945.6C279.0 945.5 280.4 945.4 281.7 945.3C283.0 945.2 284.4 945.1 285.7 944.9C287.0 944.8 288.4 944.7 289.7 944.6C291.0 944.5 292.4 944.3 293.7 944.2C295.0 944.1 296.4 944.0 297.7 943.8C299.0 943.7 300.4 943.6 301.7 943.4C303.0 943.3 304.4 943.2 305.7 943.1C307.0 942.9 308.4 942.8 309.7 942.7C311.0 942.5 312.4 942.4 313.7 942.3C315.0 942.1 316.4 942.0 317.7 941.9C319.0 941.7 320.4 941.6 321.7 941.5C323.0 941.3 324.4 941.2 325.7 941.1C327.0 940.9 328.4 940.8 329.7 940.7C331.0 940.6 332.4 940.4 333.7 940.3C335.0 940.2 336.4 940.0 337.7 939.9C339.0 939.8 340.4 939.6 341.7 939.5C343.0 939.4 344.4 939.2 345.7 939.1C347.0 939.0 348.4 938.8 349.7 938.7C351.0 938.6 352.4 938.4 353.7 938.3C355.0 938.2 356.4 938.0 357.7 937.9C359.0 937.8 360.4 937.6 361.7 937.5C363.0 937.4 364.4 937.2 365.7 937.1C367.0 937.0 368.4 936.9 369.7 936.7C371.0 936.6 372.4 936.5 373.7 936.3C375.0 936.2 376.4 936.1 377.7 936.0C379.0 935.8 380.4 935.7 381.7 935.6C383.0 935.5 384.4 935.3 385.7 935.2C387.0 935.1 388.4 935.0 389.7 934.8C391.0 934.7 392.4 934.6 393.7 934.5C395.0 934.4 396.4 934.2 397.7 934.1C399.0 934.0 400.4 933.9 401.7 933.8C403.0 933.6 404.4 933.5 405.7 933.4C407.0 933.3 408.4 933.2 409.7 933.1C411.0 932.9 412.4 932.8 413.7 932.7C415.0 932.6 416.4 932.5 417.7 932.4C419.0 932.3 420.4 932.2 421.7 932.0C423.0 931.9 424.4 931.8 425.7 931.7C427.0 931.6 428.4 931.5 429.7 931.4C431.0 931.3 432.4 931.2 433.7 931.1C435.0 931.0 436.4 930.9 437.7 930.8C439.0 930.7 440.5 930.6 441.7 930.5C442.9 930.4 444.4 930.3 445.0 930.3" stroke="#ff8000" stroke-width="2.5" stroke-dasharray="6.55 7.0 0.01 7.65"/>
</g>
<path d="M91.7 951.5 H445.0" stroke="#ff00ff" stroke-width="2.0" stroke-dasharray="5.5 3.55 1.75 3.55" stroke-dashoffset="0.5" fill="none"/>
<rect x="91.7" y="744.6" width="353.3" height="248.3" fill="none" stroke="#000" stroke-width="2.2"/>
<path d="M91.7 992.9v-9.7M91.7 744.6v9.7M209.5 992.9v-9.7M209.5 744.6v9.7M327.2 992.9v-9.7M327.2 744.6v9.7M445.0 992.9v-9.7M445.0 744.6v9.7M91.7 910.1h9.7M445.0 910.1h-9.7M91.7 827.4h9.7M445.0 827.4h-9.7M91.7 744.6h9.7M445.0 744.6h-9.7" stroke="#000" stroke-width="1.9" fill="none"/>
<path d="M121.1 992.9v-5.2M121.1 744.6v5.2M150.6 992.9v-5.2M150.6 744.6v5.2M180.0 992.9v-5.2M180.0 744.6v5.2M238.9 992.9v-5.2M238.9 744.6v5.2M268.4 992.9v-5.2M268.4 744.6v5.2M297.8 992.9v-5.2M297.8 744.6v5.2M356.7 992.9v-5.2M356.7 744.6v5.2M386.1 992.9v-5.2M386.1 744.6v5.2M415.6 992.9v-5.2M415.6 744.6v5.2M91.7 992.9h5.2M445.0 992.9h-5.2M91.7 972.2h5.2M445.0 972.2h-5.2M91.7 951.5h5.2M445.0 951.5h-5.2M91.7 930.8h5.2M445.0 930.8h-5.2M91.7 889.4h5.2M445.0 889.4h-5.2M91.7 868.8h5.2M445.0 868.8h-5.2M91.7 848.1h5.2M445.0 848.1h-5.2M91.7 806.7h5.2M445.0 806.7h-5.2M91.7 786.0h5.2M445.0 786.0h-5.2M91.7 765.3h5.2M445.0 765.3h-5.2" stroke="#000" stroke-width="1.65" fill="none"/>
<text transform="translate(91.7 1026.9) scale(1 1.040)" font-size="31.4" text-anchor="middle">0.0</text>
<text transform="translate(209.5 1026.9) scale(1 1.040)" font-size="31.4" text-anchor="middle">0.4</text>
<text transform="translate(327.2 1026.9) scale(1 1.040)" font-size="31.4" text-anchor="middle">0.8</text>
<path transform="translate(423.17 1026.9) scale(0.01533 -0.01533)" d="M763 0H583V1147Q518 1085 412.5 1023T223 930V1104Q374 1175 487 1276T647 1472H763Z"/>
<text transform="translate(466.8 1026.9) scale(1 1.040)" font-size="31.4" text-anchor="end">.2</text>
<text transform="translate(83.0 920.3) scale(1 1.040)" font-size="31.4" text-anchor="end">0</text>
<text transform="translate(83.0 837.6) scale(1 1.040)" font-size="31.4" text-anchor="end">2</text>
<text transform="translate(83.0 754.8) scale(1 1.040)" font-size="31.4" text-anchor="end">4</text>
</g>
<g id="panel-d">
<clipPath id="clip-d"><rect x="555.3" y="744.6" width="353.3" height="248.3"/></clipPath>
<g clip-path="url(#clip-d)" fill="none" stroke-linecap="round" stroke-linejoin="round">
<path d="M555.3 851.0C555.5 850.6 556.3 849.3 556.8 848.5C557.3 847.8 557.8 847.0 558.3 846.2C558.8 845.5 559.3 844.8 559.8 844.1C560.3 843.4 560.8 842.7 561.3 842.0C561.8 841.4 562.3 840.7 562.8 840.1C563.3 839.5 563.8 838.9 564.3 838.3C564.8 837.7 565.3 837.1 565.8 836.5C566.3 836.0 566.8 835.4 567.3 834.9C567.8 834.3 568.3 833.8 568.8 833.3C569.3 832.8 569.8 832.3 570.3 831.8C570.8 831.3 571.3 830.9 571.8 830.4C572.3 829.9 572.8 829.5 573.3 829.0C573.8 828.6 574.3 828.1 574.8 827.7C575.3 827.3 575.8 826.8 576.3 826.4C576.8 826.0 577.3 825.6 577.8 825.2C578.3 824.8 578.8 824.4 579.3 824.0C579.8 823.6 580.3 823.2 580.8 822.8C581.3 822.4 581.8 822.1 582.3 821.7C582.8 821.4 583.3 821.0 583.8 820.7C584.3 820.3 584.4 820.2 585.3 819.7C586.2 819.1 588.0 818.0 589.3 817.2C590.6 816.5 592.0 815.8 593.3 815.2C594.6 814.5 596.0 814.0 597.3 813.4C598.6 812.9 600.0 812.5 601.3 812.0C602.6 811.6 604.0 811.3 605.3 811.0C606.6 810.7 608.0 810.4 609.3 810.2C610.6 810.0 612.0 809.8 613.3 809.7C614.6 809.5 616.0 809.5 617.3 809.4C618.6 809.3 620.0 809.3 621.3 809.3C622.6 809.3 624.0 809.4 625.3 809.5C626.6 809.5 628.0 809.6 629.3 809.7C630.6 809.9 632.0 810.0 633.3 810.2C634.6 810.3 636.0 810.5 637.3 810.7C638.6 810.9 640.0 811.1 641.3 811.3C642.6 811.5 644.0 811.7 645.3 812.0C646.6 812.2 648.0 812.5 649.3 812.8C650.6 813.1 652.0 813.4 653.3 813.7C654.6 814.0 656.0 814.4 657.3 814.8C658.6 815.1 660.0 815.6 661.3 816.0C662.6 816.4 664.0 816.9 665.3 817.4C666.6 817.8 668.0 818.3 669.3 818.9C670.6 819.4 672.0 819.9 673.3 820.5C674.6 821.1 676.0 821.7 677.3 822.3C678.6 822.9 680.0 823.5 681.3 824.2C682.6 824.8 684.0 825.5 685.3 826.1C686.6 826.8 688.0 827.5 689.3 828.2C690.6 828.9 692.0 829.6 693.3 830.4C694.6 831.1 696.0 831.8 697.3 832.6C698.6 833.3 700.0 834.1 701.3 834.9C702.6 835.6 704.0 836.4 705.3 837.2C706.6 838.0 708.0 838.8 709.3 839.6C710.6 840.4 712.0 841.2 713.3 842.0C714.6 842.8 716.0 843.7 717.3 844.5C718.6 845.3 720.0 846.1 721.3 847.0C722.6 847.8 724.0 848.6 725.3 849.4C726.6 850.3 728.0 851.1 729.3 851.9C730.6 852.8 732.0 853.6 733.3 854.4C734.6 855.3 736.0 856.1 737.3 856.9C738.6 857.8 740.0 858.6 741.3 859.4C742.6 860.3 744.0 861.1 745.3 862.0C746.6 862.8 748.0 863.7 749.3 864.5C750.6 865.3 752.0 866.2 753.3 867.0C754.6 867.9 756.0 868.7 757.3 869.6C758.6 870.4 760.0 871.3 761.3 872.1C762.6 873.0 764.0 873.8 765.3 874.7C766.6 875.5 768.0 876.3 769.3 877.2C770.6 878.0 772.0 878.9 773.3 879.7C774.6 880.6 776.0 881.4 777.3 882.3C778.6 883.1 780.0 884.0 781.3 884.8C782.6 885.7 784.0 886.5 785.3 887.3C786.6 888.2 788.0 889.0 789.3 889.9C790.6 890.7 792.0 891.6 793.3 892.4C794.6 893.2 796.0 894.1 797.3 894.9C798.6 895.8 800.0 896.6 801.3 897.4C802.6 898.3 804.0 899.1 805.3 899.9C806.6 900.8 808.0 901.6 809.3 902.4C810.6 903.2 812.0 904.1 813.3 904.9C814.6 905.7 816.0 906.5 817.3 907.4C818.6 908.2 820.0 909.0 821.3 909.8C822.6 910.6 824.0 911.4 825.3 912.2C826.6 913.1 828.0 913.9 829.3 914.7C830.6 915.5 832.0 916.3 833.3 917.1C834.6 917.9 836.0 918.7 837.3 919.5C838.6 920.3 840.0 921.1 841.3 921.8C842.6 922.6 844.4 923.6 845.0 924.0" stroke="#0000ff" stroke-width="2.7" stroke-dasharray="0.01 9.8"/>
<path d="M555.3 851.0C555.5 850.6 556.3 849.3 556.8 848.5C557.3 847.7 557.8 846.9 558.3 846.2C558.8 845.4 559.3 844.7 559.8 844.0C560.3 843.3 560.8 842.6 561.3 841.9C561.8 841.3 562.3 840.7 562.8 840.0C563.3 839.4 563.8 838.8 564.3 838.2C564.8 837.7 565.3 837.1 565.8 836.5C566.3 836.0 566.8 835.4 567.3 834.9C567.8 834.4 568.3 833.9 568.8 833.4C569.3 832.9 569.8 832.4 570.3 831.9C570.8 831.4 571.3 830.9 571.8 830.4C572.3 830.0 572.8 829.5 573.3 829.0C573.8 828.6 574.3 828.1 574.8 827.7C575.3 827.2 575.8 826.8 576.3 826.3C576.8 825.9 577.3 825.5 577.8 825.0C578.3 824.6 578.8 824.2 579.3 823.8C579.8 823.3 580.3 822.9 580.8 822.5C581.3 822.1 581.8 821.7 582.3 821.4C582.8 821.0 583.3 820.6 583.8 820.2C584.3 819.9 584.4 819.8 585.3 819.2C586.2 818.6 588.0 817.5 589.3 816.7C590.6 815.9 592.0 815.3 593.3 814.6C594.6 814.0 596.0 813.5 597.3 813.0C598.6 812.5 600.0 812.1 601.3 811.7C602.6 811.3 604.0 811.0 605.3 810.7C606.6 810.4 608.0 810.2 609.3 810.0C610.6 809.8 612.0 809.6 613.3 809.5C614.6 809.4 616.0 809.3 617.3 809.3C618.6 809.2 620.0 809.2 621.3 809.2C622.6 809.2 624.0 809.2 625.3 809.3C626.6 809.3 628.0 809.4 629.3 809.6C630.6 809.7 632.0 809.8 633.3 810.0C634.6 810.2 636.0 810.4 637.3 810.6C638.6 810.9 640.0 811.2 641.3 811.5C642.6 811.7 644.0 812.1 645.3 812.4C646.6 812.8 648.0 813.2 649.3 813.6C650.6 814.0 652.0 814.5 653.3 814.9C654.6 815.4 656.0 815.9 657.3 816.5C658.6 817.0 660.0 817.6 661.3 818.2C662.6 818.8 664.0 819.4 665.3 820.1C666.6 820.7 668.0 821.4 669.3 822.1C670.6 822.9 672.0 823.6 673.3 824.4C674.6 825.2 676.0 826.0 677.3 826.8C678.6 827.6 680.0 828.4 681.3 829.3C682.6 830.1 684.0 831.0 685.3 831.9C686.6 832.7 688.0 833.6 689.3 834.5C690.6 835.4 692.0 836.3 693.3 837.1C694.6 838.0 696.0 838.9 697.3 839.8C698.6 840.7 700.0 841.6 701.3 842.5C702.6 843.4 704.0 844.3 705.3 845.1C706.6 846.0 708.0 846.9 709.3 847.8C710.6 848.7 712.0 849.6 713.3 850.5C714.6 851.4 716.0 852.3 717.3 853.2C718.6 854.1 720.0 855.0 721.3 855.9C722.6 856.8 724.0 857.7 725.3 858.6C726.6 859.5 728.0 860.4 729.3 861.3C730.6 862.2 732.0 863.0 733.3 863.9C734.6 864.8 736.0 865.7 737.3 866.6C738.6 867.5 740.0 868.4 741.3 869.3C742.6 870.2 744.0 871.0 745.3 871.9C746.6 872.8 748.0 873.7 749.3 874.6C750.6 875.4 752.0 876.3 753.3 877.2C754.6 878.0 756.0 878.9 757.3 879.8C758.6 880.6 760.0 881.5 761.3 882.4C762.6 883.2 764.0 884.1 765.3 884.9C766.6 885.8 768.0 886.6 769.3 887.5C770.6 888.3 772.0 889.2 773.3 890.0C774.6 890.8 776.0 891.7 777.3 892.5C778.6 893.3 780.0 894.1 781.3 894.9C782.6 895.8 784.0 896.6 785.3 897.4C786.6 898.2 788.0 899.0 789.3 899.8C790.6 900.6 792.0 901.4 793.3 902.2C794.6 902.9 796.0 903.7 797.3 904.5C798.6 905.3 800.0 906.0 801.3 906.8C802.6 907.6 804.0 908.3 805.3 909.1C806.6 909.8 808.0 910.5 809.3 911.3C810.6 912.0 812.0 912.7 813.3 913.4C814.6 914.2 816.0 914.9 817.3 915.6C818.6 916.3 820.0 917.0 821.3 917.7C822.6 918.4 824.0 919.0 825.3 919.7C826.6 920.4 828.0 921.0 829.3 921.7C830.6 922.4 832.0 923.0 833.3 923.6C834.6 924.3 836.0 924.9 837.3 925.5C838.6 926.1 840.0 926.8 841.3 927.3C842.6 927.9 844.4 928.7 845.0 929.0" stroke="#ff0000" stroke-width="2.5" stroke-dasharray="5.4 10.3"/>
<path d="M555.3 851.0C555.5 850.7 556.3 849.8 556.8 849.2C557.3 848.6 557.8 848.0 558.3 847.4C558.8 846.8 559.3 846.2 559.8 845.7C560.3 845.1 560.8 844.6 561.3 844.0C561.8 843.5 562.3 842.9 562.8 842.4C563.3 841.9 563.8 841.4 564.3 840.8C564.8 840.3 565.3 839.8 565.8 839.3C566.3 838.8 566.8 838.4 567.3 837.9C567.8 837.4 568.3 836.9 568.8 836.5C569.3 836.0 569.8 835.6 570.3 835.1C570.8 834.7 571.3 834.3 571.8 833.8C572.3 833.4 572.8 833.0 573.3 832.6C573.8 832.2 574.3 831.8 574.8 831.4C575.3 831.0 575.8 830.6 576.3 830.2C576.8 829.8 577.3 829.5 577.8 829.1C578.3 828.8 578.8 828.4 579.3 828.1C579.8 827.7 580.3 827.4 580.8 827.1C581.3 826.7 581.8 826.4 582.3 826.1C582.8 825.8 583.3 825.5 583.8 825.2C584.3 824.9 584.4 824.8 585.3 824.3C586.2 823.8 588.0 822.8 589.3 822.2C590.6 821.5 592.0 820.9 593.3 820.4C594.6 819.9 596.0 819.4 597.3 818.9C598.6 818.5 600.0 818.1 601.3 817.7C602.6 817.3 604.0 817.0 605.3 816.8C606.6 816.5 608.0 816.3 609.3 816.1C610.6 816.0 612.0 815.8 613.3 815.8C614.6 815.7 616.0 815.7 617.3 815.7C618.6 815.7 620.0 815.8 621.3 815.9C622.6 816.0 624.0 816.2 625.3 816.4C626.6 816.6 628.0 816.9 629.3 817.2C630.6 817.5 632.0 817.9 633.3 818.3C634.6 818.7 636.0 819.1 637.3 819.7C638.6 820.2 640.0 820.7 641.3 821.3C642.6 821.9 644.0 822.5 645.3 823.2C646.6 823.9 648.0 824.6 649.3 825.3C650.6 826.1 652.0 826.8 653.3 827.6C654.6 828.5 656.0 829.3 657.3 830.2C658.6 831.0 660.0 831.9 661.3 832.9C662.6 833.8 664.0 834.7 665.3 835.7C666.6 836.7 668.0 837.7 669.3 838.7C670.6 839.7 672.0 840.7 673.3 841.7C674.6 842.8 676.0 843.8 677.3 844.9C678.6 845.9 680.0 847.0 681.3 848.1C682.6 849.2 684.0 850.3 685.3 851.3C686.6 852.4 688.0 853.5 689.3 854.6C690.6 855.7 692.0 856.8 693.3 857.9C694.6 858.9 696.0 860.0 697.3 861.1C698.6 862.2 700.0 863.2 701.3 864.3C702.6 865.3 704.0 866.4 705.3 867.4C706.6 868.5 708.0 869.5 709.3 870.5C710.6 871.5 712.0 872.5 713.3 873.5C714.6 874.5 716.0 875.5 717.3 876.5C718.6 877.5 720.0 878.5 721.3 879.5C722.6 880.4 724.0 881.4 725.3 882.3C726.6 883.3 728.0 884.2 729.3 885.2C730.6 886.1 732.0 887.0 733.3 887.9C734.6 888.8 736.0 889.7 737.3 890.6C738.6 891.5 740.0 892.4 741.3 893.3C742.6 894.2 744.0 895.0 745.3 895.9C746.6 896.8 748.0 897.6 749.3 898.5C750.6 899.3 752.0 900.1 753.3 900.9C754.6 901.8 756.0 902.6 757.3 903.4C758.6 904.2 760.0 905.0 761.3 905.7C762.6 906.5 764.0 907.3 765.3 908.1C766.6 908.8 768.0 909.6 769.3 910.3C770.6 911.0 772.0 911.8 773.3 912.5C774.6 913.2 776.0 913.9 777.3 914.6C778.6 915.3 780.0 916.0 781.3 916.7C782.6 917.4 784.0 918.1 785.3 918.7C786.6 919.4 788.0 920.0 789.3 920.7C790.6 921.3 792.0 921.9 793.3 922.5C794.6 923.2 796.0 923.8 797.3 924.4C798.6 925.0 800.0 925.5 801.3 926.1C802.6 926.7 804.0 927.2 805.3 927.8C806.6 928.4 808.0 928.9 809.3 929.4C810.6 930.0 812.0 930.5 813.3 931.0C814.6 931.5 816.0 932.0 817.3 932.5C818.6 933.0 820.0 933.4 821.3 933.9C822.6 934.4 824.0 934.8 825.3 935.3C826.6 935.7 828.0 936.1 829.3 936.5C830.6 937.0 832.0 937.4 833.3 937.8C834.6 938.2 836.0 938.5 837.3 938.9C838.6 939.3 840.0 939.7 841.3 940.0C842.6 940.3 844.4 940.8 845.0 940.9" stroke="#000" stroke-width="2.4"/>
<path d="M555.3 851.0C555.5 850.7 556.3 849.6 556.8 848.9C557.3 848.1 557.8 847.4 558.3 846.7C558.8 845.9 559.3 845.2 559.8 844.4C560.3 843.7 560.8 843.0 561.3 842.2C561.8 841.5 562.3 840.7 562.8 840.0C563.3 839.2 563.8 838.5 564.3 837.8C564.8 837.0 565.3 836.3 565.8 835.6C566.3 834.9 566.8 834.2 567.3 833.4C567.8 832.7 568.3 832.0 568.8 831.4C569.3 830.7 569.8 830.0 570.3 829.3C570.8 828.7 571.3 828.0 571.8 827.4C572.3 826.8 572.8 826.2 573.3 825.6C573.8 825.0 574.3 824.4 574.8 823.8C575.3 823.3 575.8 822.7 576.3 822.2C576.8 821.6 577.3 821.1 577.8 820.6C578.3 820.1 578.8 819.6 579.3 819.1C579.8 818.6 580.3 818.1 580.8 817.6C581.3 817.2 581.8 816.7 582.3 816.3C582.8 815.8 583.3 815.4 583.8 814.9C584.3 814.5 584.4 814.4 585.3 813.6C586.2 812.9 588.0 811.4 589.3 810.4C590.6 809.4 592.0 808.4 593.3 807.5C594.6 806.6 596.0 805.7 597.3 804.9C598.6 804.1 600.0 803.4 601.3 802.7C602.6 802.1 604.0 801.5 605.3 800.9C606.6 800.4 608.0 799.9 609.3 799.5C610.6 799.0 612.0 798.7 613.3 798.3C614.6 798.0 616.0 797.7 617.3 797.5C618.6 797.2 620.0 797.0 621.3 796.8C622.6 796.6 624.0 796.5 625.3 796.4C626.6 796.2 628.0 796.1 629.3 796.0C630.6 796.0 632.0 795.9 633.3 795.9C634.6 795.8 636.0 795.8 637.3 795.7C638.6 795.7 640.0 795.7 641.3 795.7C642.6 795.7 644.0 795.7 645.3 795.7C646.6 795.7 648.0 795.7 649.3 795.7C650.6 795.8 652.0 795.8 653.3 795.8C654.6 795.8 656.0 795.9 657.3 795.9C658.6 796.0 660.0 796.0 661.3 796.1C662.6 796.1 664.0 796.2 665.3 796.2C666.6 796.3 668.0 796.3 669.3 796.4C670.6 796.5 672.0 796.6 673.3 796.6C674.6 796.7 676.0 796.8 677.3 796.9C678.6 797.0 680.0 797.0 681.3 797.1C682.6 797.2 684.0 797.3 685.3 797.4C686.6 797.5 688.0 797.6 689.3 797.7C690.6 797.8 692.0 797.9 693.3 798.0C694.6 798.2 696.0 798.3 697.3 798.4C698.6 798.5 700.0 798.6 701.3 798.7C702.6 798.9 704.0 799.0 705.3 799.1C706.6 799.2 708.0 799.4 709.3 799.5C710.6 799.6 712.0 799.8 713.3 799.9C714.6 800.0 716.0 800.2 717.3 800.3C718.6 800.4 720.0 800.6 721.3 800.7C722.6 800.8 724.0 801.0 725.3 801.1C726.6 801.3 728.0 801.4 729.3 801.6C730.6 801.7 732.0 801.8 733.3 802.0C734.6 802.1 736.0 802.3 737.3 802.4C738.6 802.6 740.0 802.7 741.3 802.9C742.6 803.0 744.0 803.2 745.3 803.3C746.6 803.4 748.0 803.6 749.3 803.7C750.6 803.9 752.0 804.0 753.3 804.2C754.6 804.3 756.0 804.5 757.3 804.6C758.6 804.7 760.0 804.9 761.3 805.0C762.6 805.2 764.0 805.3 765.3 805.4C766.6 805.6 768.0 805.7 769.3 805.9C770.6 806.0 772.0 806.1 773.3 806.3C774.6 806.4 776.0 806.5 777.3 806.7C778.6 806.8 780.0 806.9 781.3 807.0C782.6 807.2 784.0 807.3 785.3 807.4C786.6 807.5 788.0 807.6 789.3 807.8C790.6 807.9 792.0 808.0 793.3 808.1C794.6 808.2 796.0 808.3 797.3 808.4C798.6 808.5 800.0 808.6 801.3 808.7C802.6 808.8 804.0 808.9 805.3 809.0C806.6 809.1 808.0 809.2 809.3 809.3C810.6 809.4 812.0 809.4 813.3 809.5C814.6 809.6 816.0 809.7 817.3 809.7C818.6 809.8 820.0 809.9 821.3 809.9C822.6 810.0 824.0 810.0 825.3 810.1C826.6 810.1 828.0 810.2 829.3 810.2C830.6 810.3 832.0 810.3 833.3 810.3C834.6 810.3 836.0 810.4 837.3 810.4C838.6 810.4 840.0 810.4 841.3 810.4C842.6 810.4 844.4 810.4 845.0 810.4" stroke="#800000" stroke-width="2.5" stroke-dasharray="5.5 7.2 0.01 7.15 0.01 7.65"/>
<path d="M555.3 851.0C555.5 850.6 556.3 849.4 556.8 848.6C557.3 847.8 557.8 847.1 558.3 846.3C558.8 845.5 559.3 844.7 559.8 843.9C560.3 843.1 560.8 842.4 561.3 841.6C561.8 840.8 562.3 840.1 562.8 839.3C563.3 838.6 563.8 837.8 564.3 837.1C564.8 836.3 565.3 835.6 565.8 834.9C566.3 834.1 566.8 833.4 567.3 832.7C567.8 832.0 568.3 831.3 568.8 830.6C569.3 829.9 569.8 829.3 570.3 828.6C570.8 827.9 571.3 827.3 571.8 826.6C572.3 826.0 572.8 825.4 573.3 824.7C573.8 824.1 574.3 823.5 574.8 822.9C575.3 822.3 575.8 821.8 576.3 821.2C576.8 820.6 577.3 820.1 577.8 819.5C578.3 819.0 578.8 818.5 579.3 817.9C579.8 817.4 580.3 816.9 580.8 816.4C581.3 815.9 581.8 815.4 582.3 815.0C582.8 814.5 583.3 814.0 583.8 813.6C584.3 813.1 584.4 813.0 585.3 812.2C586.2 811.5 588.0 810.0 589.3 809.0C590.6 807.9 592.0 807.0 593.3 806.1C594.6 805.2 596.0 804.4 597.3 803.6C598.6 802.8 600.0 802.1 601.3 801.5C602.6 800.8 604.0 800.2 605.3 799.6C606.6 799.1 608.0 798.5 609.3 798.1C610.6 797.6 612.0 797.2 613.3 796.8C614.6 796.4 616.0 796.1 617.3 795.8C618.6 795.4 620.0 795.2 621.3 794.9C622.6 794.7 624.0 794.5 625.3 794.3C626.6 794.1 628.0 793.9 629.3 793.8C630.6 793.7 632.0 793.5 633.3 793.5C634.6 793.4 636.0 793.3 637.3 793.2C638.6 793.2 640.0 793.2 641.3 793.1C642.6 793.1 644.0 793.1 645.3 793.1C646.6 793.1 648.0 793.1 649.3 793.1C650.6 793.2 652.0 793.2 653.3 793.2C654.6 793.3 656.0 793.3 657.3 793.3C658.6 793.4 660.0 793.4 661.3 793.5C662.6 793.5 664.0 793.6 665.3 793.6C666.6 793.7 668.0 793.7 669.3 793.8C670.6 793.9 672.0 794.0 673.3 794.0C674.6 794.1 676.0 794.2 677.3 794.3C678.6 794.3 680.0 794.4 681.3 794.5C682.6 794.6 684.0 794.7 685.3 794.8C686.6 794.9 688.0 795.0 689.3 795.1C690.6 795.2 692.0 795.3 693.3 795.4C694.6 795.5 696.0 795.6 697.3 795.8C698.6 795.9 700.0 796.0 701.3 796.1C702.6 796.2 704.0 796.4 705.3 796.5C706.6 796.6 708.0 796.7 709.3 796.9C710.6 797.0 712.0 797.1 713.3 797.2C714.6 797.4 716.0 797.5 717.3 797.6C718.6 797.8 720.0 797.9 721.3 798.1C722.6 798.2 724.0 798.3 725.3 798.5C726.6 798.6 728.0 798.8 729.3 798.9C730.6 799.1 732.0 799.2 733.3 799.3C734.6 799.5 736.0 799.6 737.3 799.8C738.6 799.9 740.0 800.1 741.3 800.2C742.6 800.4 744.0 800.5 745.3 800.7C746.6 800.8 748.0 801.0 749.3 801.1C750.6 801.3 752.0 801.4 753.3 801.6C754.6 801.7 756.0 801.9 757.3 802.0C758.6 802.2 760.0 802.3 761.3 802.5C762.6 802.6 764.0 802.7 765.3 802.9C766.6 803.0 768.0 803.2 769.3 803.3C770.6 803.5 772.0 803.6 773.3 803.8C774.6 803.9 776.0 804.0 777.3 804.2C778.6 804.3 780.0 804.4 781.3 804.6C782.6 804.7 784.0 804.9 785.3 805.0C786.6 805.1 788.0 805.2 789.3 805.4C790.6 805.5 792.0 805.6 793.3 805.8C794.6 805.9 796.0 806.0 797.3 806.1C798.6 806.2 800.0 806.3 801.3 806.5C802.6 806.6 804.0 806.7 805.3 806.8C806.6 806.9 808.0 807.0 809.3 807.1C810.6 807.2 812.0 807.3 813.3 807.4C814.6 807.5 816.0 807.6 817.3 807.7C818.6 807.8 820.0 807.9 821.3 807.9C822.6 808.0 824.0 808.1 825.3 808.2C826.6 808.2 828.0 808.3 829.3 808.4C830.6 808.4 832.0 808.5 833.3 808.6C834.6 808.6 836.0 808.7 837.3 808.7C838.6 808.8 840.0 808.8 841.3 808.8C842.6 808.9 844.4 808.9 845.0 808.9" stroke="#8000ff" stroke-width="2.7" stroke-dasharray="0.01 7.5"/>
<path d="M555.3 851.0C555.5 850.7 556.3 849.5 556.8 848.8C557.3 848.1 557.8 847.4 558.3 846.7C558.8 846.0 559.3 845.3 559.8 844.6C560.3 843.9 560.8 843.2 561.3 842.5C561.8 841.8 562.3 841.2 562.8 840.5C563.3 839.9 563.8 839.2 564.3 838.6C564.8 837.9 565.3 837.3 565.8 836.7C566.3 836.1 566.8 835.5 567.3 834.9C567.8 834.3 568.3 833.7 568.8 833.1C569.3 832.5 569.8 831.9 570.3 831.3C570.8 830.8 571.3 830.2 571.8 829.7C572.3 829.1 572.8 828.6 573.3 828.0C573.8 827.5 574.3 827.0 574.8 826.5C575.3 825.9 575.8 825.4 576.3 824.9C576.8 824.4 577.3 823.9 577.8 823.4C578.3 822.9 578.8 822.4 579.3 822.0C579.8 821.5 580.3 821.0 580.8 820.6C581.3 820.1 581.8 819.6 582.3 819.2C582.8 818.7 583.3 818.3 583.8 817.8C584.3 817.4 584.4 817.3 585.3 816.5C586.2 815.7 588.0 814.2 589.3 813.2C590.6 812.1 592.0 811.1 593.3 810.1C594.6 809.1 596.0 808.2 597.3 807.3C598.6 806.4 600.0 805.5 601.3 804.7C602.6 804.0 604.0 803.2 605.3 802.5C606.6 801.8 608.0 801.2 609.3 800.6C610.6 800.0 612.0 799.5 613.3 799.0C614.6 798.4 616.0 798.0 617.3 797.6C618.6 797.1 620.0 796.7 621.3 796.4C622.6 796.0 624.0 795.7 625.3 795.4C626.6 795.2 628.0 794.9 629.3 794.7C630.6 794.5 632.0 794.3 633.3 794.1C634.6 794.0 636.0 793.8 637.3 793.7C638.6 793.6 640.0 793.5 641.3 793.4C642.6 793.4 644.0 793.3 645.3 793.3C646.6 793.2 648.0 793.2 649.3 793.2C650.6 793.2 652.0 793.2 653.3 793.2C654.6 793.3 656.0 793.3 657.3 793.3C658.6 793.4 660.0 793.4 661.3 793.5C662.6 793.6 664.0 793.7 665.3 793.7C666.6 793.8 668.0 793.9 669.3 794.0C670.6 794.1 672.0 794.2 673.3 794.4C674.6 794.5 676.0 794.6 677.3 794.8C678.6 794.9 680.0 795.0 681.3 795.2C682.6 795.3 684.0 795.5 685.3 795.7C686.6 795.8 688.0 796.0 689.3 796.2C690.6 796.3 692.0 796.5 693.3 796.7C694.6 796.9 696.0 797.1 697.3 797.3C698.6 797.5 700.0 797.6 701.3 797.8C702.6 798.0 704.0 798.2 705.3 798.4C706.6 798.6 708.0 798.8 709.3 799.0C710.6 799.3 712.0 799.5 713.3 799.7C714.6 799.9 716.0 800.1 717.3 800.3C718.6 800.5 720.0 800.7 721.3 800.9C722.6 801.1 724.0 801.3 725.3 801.5C726.6 801.7 728.0 801.9 729.3 802.1C730.6 802.3 732.0 802.5 733.3 802.7C734.6 802.9 736.0 803.1 737.3 803.3C738.6 803.5 740.0 803.6 741.3 803.8C742.6 804.0 744.0 804.2 745.3 804.4C746.6 804.6 748.0 804.8 749.3 804.9C750.6 805.1 752.0 805.3 753.3 805.5C754.6 805.7 756.0 805.9 757.3 806.0C758.6 806.2 760.0 806.4 761.3 806.6C762.6 806.7 764.0 806.9 765.3 807.1C766.6 807.3 768.0 807.5 769.3 807.6C770.6 807.8 772.0 808.0 773.3 808.2C774.6 808.3 776.0 808.5 777.3 808.7C778.6 808.9 780.0 809.1 781.3 809.2C782.6 809.4 784.0 809.6 785.3 809.8C786.6 810.0 788.0 810.1 789.3 810.3C790.6 810.5 792.0 810.7 793.3 810.9C794.6 811.0 796.0 811.2 797.3 811.4C798.6 811.6 800.0 811.8 801.3 812.0C802.6 812.2 804.0 812.3 805.3 812.5C806.6 812.7 808.0 812.9 809.3 813.1C810.6 813.3 812.0 813.5 813.3 813.7C814.6 813.9 816.0 814.1 817.3 814.3C818.6 814.5 820.0 814.7 821.3 814.9C822.6 815.1 824.5 815.4 825.3 815.5C826.1 815.6 826.0 815.6 826.1 815.6" stroke="#ff8000" stroke-width="2.5" stroke-dasharray="6.55 7.0 0.01 7.65"/>
</g>
<path d="M555.3 957.4 H908.6" stroke="#ff00ff" stroke-width="2.0" stroke-dasharray="5.5 3.55 1.75 3.55" stroke-dashoffset="0.5" fill="none"/>
<rect x="555.3" y="744.6" width="353.3" height="248.3" fill="none" stroke="#000" stroke-width="2.2"/>
<path d="M555.3 992.9v-9.7M555.3 744.6v9.7M673.1 992.9v-9.7M673.1 744.6v9.7M790.8 992.9v-9.7M790.8 744.6v9.7M908.6 992.9v-9.7M908.6 744.6v9.7M555.3 922.0h9.7M908.6 922.0h-9.7M555.3 851.0h9.7M908.6 851.0h-9.7M555.3 780.1h9.7M908.6 780.1h-9.7" stroke="#000" stroke-width="1.9" fill="none"/>
<path d="M584.7 992.9v-5.2M584.7 744.6v5.2M614.2 992.9v-5.2M614.2 744.6v5.2M643.6 992.9v-5.2M643.6 744.6v5.2M702.5 992.9v-5.2M702.5 744.6v5.2M732.0 992.9v-5.2M732.0 744.6v5.2M761.4 992.9v-5.2M761.4 744.6v5.2M820.3 992.9v-5.2M820.3 744.6v5.2M849.7 992.9v-5.2M849.7 744.6v5.2M879.2 992.9v-5.2M879.2 744.6v5.2M555.3 992.9h5.2M908.6 992.9h-5.2M555.3 975.2h5.2M908.6 975.2h-5.2M555.3 957.4h5.2M908.6 957.4h-5.2M555.3 939.7h5.2M908.6 939.7h-5.2M555.3 904.2h5.2M908.6 904.2h-5.2M555.3 886.5h5.2M908.6 886.5h-5.2M555.3 868.8h5.2M908.6 868.8h-5.2M555.3 833.3h5.2M908.6 833.3h-5.2M555.3 815.5h5.2M908.6 815.5h-5.2M555.3 797.8h5.2M908.6 797.8h-5.2M555.3 762.3h5.2M908.6 762.3h-5.2M555.3 744.6h5.2M908.6 744.6h-5.2" stroke="#000" stroke-width="1.65" fill="none"/>
<text transform="translate(555.3 1026.9) scale(1 1.040)" font-size="31.4" text-anchor="middle">0.0</text>
<text transform="translate(673.1 1026.9) scale(1 1.040)" font-size="31.4" text-anchor="middle">0.4</text>
<text transform="translate(790.8 1026.9) scale(1 1.040)" font-size="31.4" text-anchor="middle">0.8</text>
<text transform="translate(546.6 932.2) scale(1 1.040)" font-size="31.4" text-anchor="end">-2</text>
<text transform="translate(546.6 861.2) scale(1 1.040)" font-size="31.4" text-anchor="end">0</text>
<text transform="translate(546.6 790.3) scale(1 1.040)" font-size="31.4" text-anchor="end">2</text>
</g>
<text x="108.6" y="462.5" font-size="34">(a)</text>
<text x="569.5" y="462.6" font-size="34">(b)</text>
<text x="105.6" y="785.0" font-size="34">(c)</text>
<text x="568.7" y="786.2" font-size="34">(d)</text>
<text transform="translate(219.3 1068.2) scale(0.96 0.83)" font-size="32">ρ</text>
<text x="244.8" y="1065.5" font-size="32">(fm<tspan font-size="19.5" dy="-14.2">-3</tspan><tspan dy="14.2" dx="0.5">)</tspan></text>
<text transform="translate(682.0 1066.1) scale(0.96 0.83)" font-size="32">ρ</text>
<text x="706.8" y="1063.4" font-size="32">(fm<tspan font-size="19.5" dy="-14.2">-3</tspan><tspan dy="14.2" dx="0.5">)</tspan></text>
<text transform="translate(35.8 587.2) rotate(-90) scale(0.96,1.04)" font-size="32">F</text>
<text transform="translate(47.0 568.6) rotate(-90) scale(1.06 1.03)" font-size="19.5">0</text>
<text transform="translate(20.2 568.5) rotate(-90) scale(1.000 0.94)" font-size="19.5">(n)</text>
<text transform="translate(498.0 572.5) rotate(-90) scale(0.96,1.04)" font-size="32">F</text>
<path transform="translate(508.8 553.8) rotate(-90) scale(0.00952 -0.00952)" d="M763 0H583V1147Q518 1085 412.5 1023T223 930V1104Q374 1175 487 1276T647 1472H763Z"/>
<text transform="translate(483.1 554.4) rotate(-90) scale(1.043 0.94)" font-size="19.5">(n)</text>
<text transform="translate(43.7 905.2) rotate(-90) scale(1.01,1.04)" font-size="32">G</text>
<text transform="translate(54.2 882.0) rotate(-90) scale(1.06 1.03)" font-size="19.5">0</text>
<text transform="translate(27.9 881.8) rotate(-90) scale(1.000 0.94)" font-size="19.5">(n)</text>
<text transform="translate(496.4 901.7) rotate(-90) scale(1.01,1.04)" font-size="32">G</text>
<path transform="translate(507.0 877.5) rotate(-90) scale(0.00952 -0.00952)" d="M763 0H583V1147Q518 1085 412.5 1023T223 930V1104Q374 1175 487 1276T647 1472H763Z"/>
<text transform="translate(481.0 877.7) rotate(-90) scale(1.000 0.94)" font-size="19.5">(n)</text>
</svg></body></html>
